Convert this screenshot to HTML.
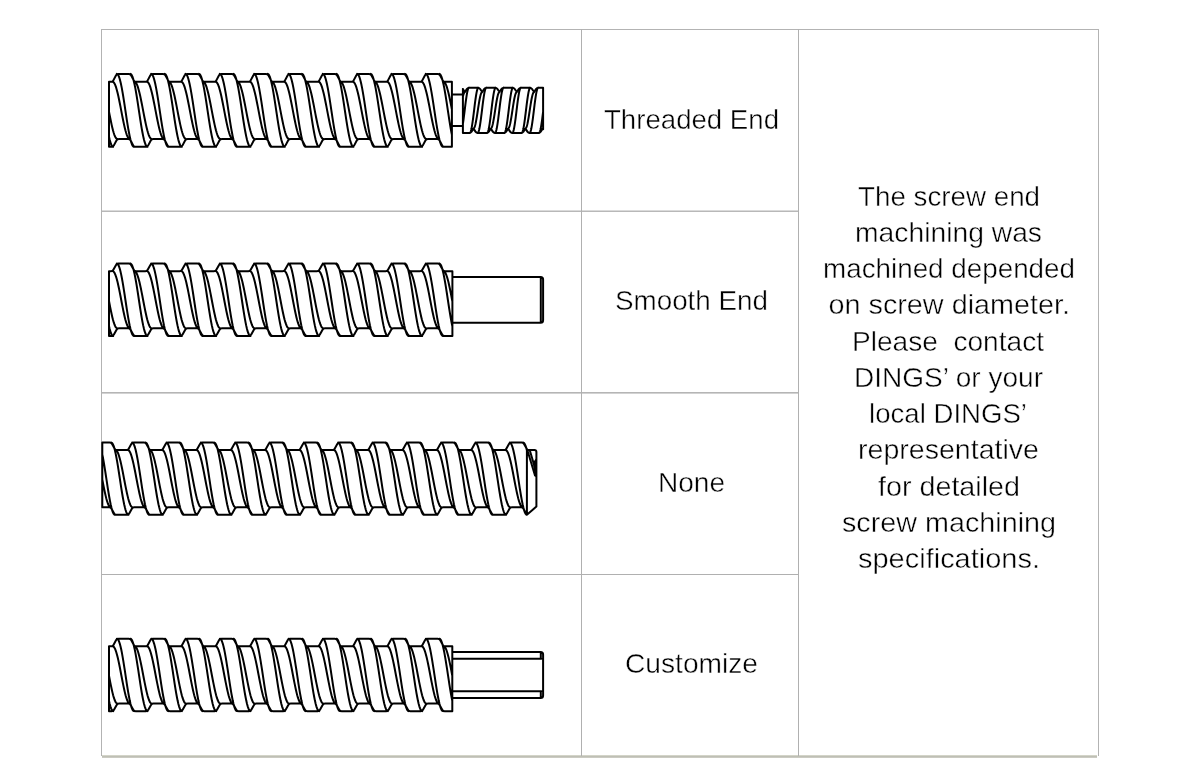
<!DOCTYPE html>
<html><head><meta charset="utf-8"><title>Screw end machining</title>
<style>
html,body{margin:0;padding:0;background:#fff;width:1200px;height:780px;overflow:hidden}
svg{position:absolute;left:0;top:0;display:block}
text{font-family:"Liberation Sans", sans-serif;font-size:28.5px;fill:#000;stroke:#fff;stroke-width:0.45px}
</style></head><body>
<svg width="1200" height="780" viewBox="0 0 1200 780">
<g shape-rendering="crispEdges">
<rect x="101" y="29" width="998" height="1" fill="#b3b3b3"/>
<rect x="101" y="210" width="698" height="1" fill="#dadada"/>
<rect x="101" y="211" width="698" height="1" fill="#b8b8b8"/>
<rect x="101" y="392" width="698" height="1" fill="#b5b5b5"/>
<rect x="101" y="393" width="698" height="1" fill="#d2d2d2"/>
<rect x="101" y="574" width="698" height="1" fill="#b0b0b0"/>
<rect x="102" y="755" width="995" height="1" fill="#d3d4c8"/>
<rect x="102" y="756" width="995" height="1" fill="#bebfb5"/>
<rect x="102" y="757" width="995" height="1" fill="#cbcbc2"/>
<rect x="101" y="29" width="1" height="727" fill="#b3b3b3"/>
<rect x="1098" y="29" width="1" height="727" fill="#b3b3b3"/>
<rect x="581" y="29" width="1" height="727" fill="#b0b0b0"/>
<rect x="798" y="29" width="1" height="727" fill="#b0b0b0"/>
</g>
<path d="M533.2,462 L536.4,458 L536.4,477 L534.6,476 Z" fill="#000"/>
<path d="M109,81.8 L111,81.8 Q112.6,81.8 113.35,80.39 L116.05,75.31 Q116.8,73.9 118.4,73.9 L128.7,73.9 Q130.3,73.9 131.05,75.31 L133.75,80.39 Q134.5,81.8 136.1,81.8 L145.33,81.8 Q146.93,81.8 147.68,80.39 L150.38,75.31 Q151.13,73.9 152.73,73.9 L163.03,73.9 Q164.63,73.9 165.38,75.31 L168.08,80.39 Q168.83,81.8 170.43,81.8 L179.66,81.8 Q181.26,81.8 182.01,80.39 L184.71,75.31 Q185.46,73.9 187.06,73.9 L197.36,73.9 Q198.96,73.9 199.71,75.31 L202.41,80.39 Q203.16,81.8 204.76,81.8 L213.99,81.8 Q215.59,81.8 216.34,80.39 L219.04,75.31 Q219.79,73.9 221.39,73.9 L231.69,73.9 Q233.29,73.9 234.04,75.31 L236.74,80.39 Q237.49,81.8 239.09,81.8 L248.32,81.8 Q249.92,81.8 250.67,80.39 L253.37,75.31 Q254.12,73.9 255.72,73.9 L266.02,73.9 Q267.62,73.9 268.37,75.31 L271.07,80.39 Q271.82,81.8 273.42,81.8 L282.65,81.8 Q284.25,81.8 285,80.39 L287.7,75.31 Q288.45,73.9 290.05,73.9 L300.35,73.9 Q301.95,73.9 302.7,75.31 L305.4,80.39 Q306.15,81.8 307.75,81.8 L316.98,81.8 Q318.58,81.8 319.33,80.39 L322.03,75.31 Q322.78,73.9 324.38,73.9 L334.68,73.9 Q336.28,73.9 337.03,75.31 L339.73,80.39 Q340.48,81.8 342.08,81.8 L351.31,81.8 Q352.91,81.8 353.66,80.39 L356.36,75.31 Q357.11,73.9 358.71,73.9 L369.01,73.9 Q370.61,73.9 371.36,75.31 L374.06,80.39 Q374.81,81.8 376.41,81.8 L385.64,81.8 Q387.24,81.8 387.99,80.39 L390.69,75.31 Q391.44,73.9 393.04,73.9 L403.34,73.9 Q404.94,73.9 405.69,75.31 L408.39,80.39 Q409.14,81.8 410.74,81.8 L419.97,81.8 Q421.57,81.8 422.32,80.39 L425.02,75.31 Q425.77,73.9 427.37,73.9 L437.67,73.9 Q439.27,73.9 440.02,75.31 L442.72,80.39 Q443.47,81.8 445.07,81.8 L451.9,81.8 M109,146.8 L111.54,146.8 Q113.14,146.8 113.89,145.39 L116.58,140.31 Q117.34,138.9 118.94,138.9 L128.17,138.9 Q129.77,138.9 130.52,140.31 L133.21,145.39 Q133.97,146.8 135.56,146.8 L145.87,146.8 Q147.47,146.8 148.22,145.39 L150.91,140.31 Q151.66,138.9 153.26,138.9 L162.5,138.9 Q164.09,138.9 164.85,140.31 L167.54,145.39 Q168.3,146.8 169.9,146.8 L180.2,146.8 Q181.8,146.8 182.55,145.39 L185.24,140.31 Q186,138.9 187.59,138.9 L196.83,138.9 Q198.43,138.9 199.18,140.31 L201.87,145.39 Q202.62,146.8 204.22,146.8 L214.53,146.8 Q216.12,146.8 216.88,145.39 L219.57,140.31 Q220.32,138.9 221.92,138.9 L231.16,138.9 Q232.75,138.9 233.51,140.31 L236.2,145.39 Q236.95,146.8 238.55,146.8 L248.85,146.8 Q250.45,146.8 251.21,145.39 L253.9,140.31 Q254.65,138.9 256.25,138.9 L265.48,138.9 Q267.08,138.9 267.84,140.31 L270.53,145.39 Q271.28,146.8 272.88,146.8 L283.18,146.8 Q284.78,146.8 285.54,145.39 L288.23,140.31 Q288.98,138.9 290.58,138.9 L299.81,138.9 Q301.41,138.9 302.17,140.31 L304.86,145.39 Q305.62,146.8 307.22,146.8 L317.51,146.8 Q319.12,146.8 319.87,145.39 L322.56,140.31 Q323.31,138.9 324.92,138.9 L334.14,138.9 Q335.75,138.9 336.5,140.31 L339.19,145.39 Q339.94,146.8 341.55,146.8 L351.84,146.8 Q353.44,146.8 354.2,145.39 L356.89,140.31 Q357.64,138.9 359.25,138.9 L368.47,138.9 Q370.07,138.9 370.83,140.31 L373.52,145.39 Q374.27,146.8 375.88,146.8 L386.17,146.8 Q387.77,146.8 388.53,145.39 L391.22,140.31 Q391.97,138.9 393.57,138.9 L402.8,138.9 Q404.4,138.9 405.16,140.31 L407.85,145.39 Q408.61,146.8 410.21,146.8 L420.5,146.8 Q422.11,146.8 422.86,145.39 L425.55,140.31 Q426.31,138.9 427.91,138.9 L437.13,138.9 Q438.74,138.9 439.49,140.31 L442.18,145.39 Q442.93,146.8 444.53,146.8 L451.9,146.8 M109,136.81 L109.56,139.27 L110.27,141.92 L110.99,144.03 L111.7,145.56 L112.42,146.49 L113.13,146.8 M109,111.64 L109.47,114.08 L110.18,117.74 L110.9,121.28 L111.61,124.62 L112.33,127.73 L113.04,130.54 L113.76,133 L114.47,135.08 L115.19,136.73 L115.9,137.93 L116.62,138.66 L117.34,138.9 M112.6,81.8 L113.32,82.04 L114.03,82.77 L114.75,83.97 L115.46,85.62 L116.18,87.7 L116.89,90.16 L117.61,92.97 L118.32,96.07 L119.04,99.42 L119.75,102.96 L120.47,106.62 L121.18,110.35 L121.9,114.08 L122.61,117.74 L123.33,121.28 L124.04,124.62 L124.76,127.73 L125.47,130.54 L126.19,133 L126.9,135.08 L127.62,136.73 L128.33,137.93 L129.05,138.66 L129.76,138.9 M116.8,73.9 L117.52,74.21 L118.23,75.14 L118.95,76.67 L119.66,78.78 L120.38,81.43 L121.09,84.58 L121.81,88.16 L122.52,92.12 L123.24,96.4 L123.95,100.92 L124.67,105.59 L125.38,110.35 L126.1,115.11 L126.81,119.78 L127.53,124.3 L128.24,128.57 L128.96,132.54 L129.67,136.12 L130.39,139.27 L131.1,141.92 L131.82,144.03 L132.53,145.56 L133.25,146.49 L133.97,146.8 M130.3,73.9 L131.02,74.21 L131.73,75.14 L132.45,76.67 L133.16,78.78 L133.88,81.43 L134.59,84.58 L135.31,88.16 L136.02,92.12 L136.74,96.4 L137.45,100.92 L138.17,105.59 L138.88,110.35 L139.6,115.11 L140.31,119.78 L141.03,124.3 L141.74,128.57 L142.46,132.54 L143.17,136.12 L143.89,139.27 L144.6,141.92 L145.32,144.03 L146.03,145.56 L146.75,146.49 L147.47,146.8 M134.5,81.8 L135.22,82.04 L135.93,82.77 L136.65,83.97 L137.36,85.62 L138.08,87.7 L138.79,90.16 L139.51,92.97 L140.22,96.07 L140.94,99.42 L141.65,102.96 L142.37,106.62 L143.08,110.35 L143.8,114.08 L144.51,117.74 L145.23,121.28 L145.94,124.62 L146.66,127.73 L147.37,130.54 L148.09,133 L148.8,135.08 L149.52,136.73 L150.23,137.93 L150.95,138.66 L151.66,138.9 M146.93,81.8 L147.65,82.04 L148.36,82.77 L149.08,83.97 L149.79,85.62 L150.51,87.7 L151.22,90.16 L151.94,92.97 L152.65,96.07 L153.37,99.42 L154.08,102.96 L154.8,106.62 L155.51,110.35 L156.23,114.08 L156.94,117.74 L157.66,121.28 L158.37,124.62 L159.09,127.73 L159.8,130.54 L160.52,133 L161.23,135.08 L161.95,136.73 L162.66,137.93 L163.38,138.66 L164.09,138.9 M151.13,73.9 L151.85,74.21 L152.56,75.14 L153.28,76.67 L153.99,78.78 L154.71,81.43 L155.42,84.58 L156.14,88.16 L156.85,92.12 L157.57,96.4 L158.28,100.92 L159,105.59 L159.71,110.35 L160.43,115.11 L161.14,119.78 L161.86,124.3 L162.57,128.57 L163.29,132.54 L164,136.12 L164.72,139.27 L165.43,141.92 L166.15,144.03 L166.86,145.56 L167.58,146.49 L168.29,146.8 M164.63,73.9 L165.35,74.21 L166.06,75.14 L166.78,76.67 L167.49,78.78 L168.21,81.43 L168.92,84.58 L169.64,88.16 L170.35,92.12 L171.07,96.4 L171.78,100.92 L172.5,105.59 L173.21,110.35 L173.93,115.11 L174.64,119.78 L175.36,124.3 L176.07,128.57 L176.79,132.54 L177.5,136.12 L178.22,139.27 L178.93,141.92 L179.65,144.03 L180.36,145.56 L181.08,146.49 L181.79,146.8 M168.83,81.8 L169.55,82.04 L170.26,82.77 L170.98,83.97 L171.69,85.62 L172.41,87.7 L173.12,90.16 L173.84,92.97 L174.55,96.07 L175.27,99.42 L175.98,102.96 L176.7,106.62 L177.41,110.35 L178.13,114.08 L178.84,117.74 L179.56,121.28 L180.27,124.62 L180.99,127.73 L181.7,130.54 L182.42,133 L183.13,135.08 L183.85,136.73 L184.56,137.93 L185.28,138.66 L185.99,138.9 M181.26,81.8 L181.98,82.04 L182.69,82.77 L183.41,83.97 L184.12,85.62 L184.84,87.7 L185.55,90.16 L186.27,92.97 L186.98,96.07 L187.7,99.42 L188.41,102.96 L189.13,106.62 L189.84,110.35 L190.56,114.08 L191.27,117.74 L191.99,121.28 L192.7,124.62 L193.42,127.73 L194.13,130.54 L194.85,133 L195.56,135.08 L196.28,136.73 L196.99,137.93 L197.71,138.66 L198.42,138.9 M185.46,73.9 L186.18,74.21 L186.89,75.14 L187.61,76.67 L188.32,78.78 L189.04,81.43 L189.75,84.58 L190.47,88.16 L191.18,92.12 L191.9,96.4 L192.61,100.92 L193.33,105.59 L194.04,110.35 L194.76,115.11 L195.47,119.78 L196.19,124.3 L196.9,128.57 L197.62,132.54 L198.33,136.12 L199.05,139.27 L199.76,141.92 L200.48,144.03 L201.19,145.56 L201.91,146.49 L202.62,146.8 M198.96,73.9 L199.68,74.21 L200.39,75.14 L201.11,76.67 L201.82,78.78 L202.54,81.43 L203.25,84.58 L203.97,88.16 L204.68,92.12 L205.4,96.4 L206.11,100.92 L206.83,105.59 L207.54,110.35 L208.26,115.11 L208.97,119.78 L209.69,124.3 L210.4,128.57 L211.12,132.54 L211.83,136.12 L212.55,139.27 L213.26,141.92 L213.98,144.03 L214.69,145.56 L215.41,146.49 L216.12,146.8 M203.16,81.8 L203.88,82.04 L204.59,82.77 L205.31,83.97 L206.02,85.62 L206.74,87.7 L207.45,90.16 L208.17,92.97 L208.88,96.07 L209.6,99.42 L210.31,102.96 L211.03,106.62 L211.74,110.35 L212.46,114.08 L213.17,117.74 L213.89,121.28 L214.6,124.62 L215.32,127.73 L216.03,130.54 L216.75,133 L217.46,135.08 L218.18,136.73 L218.89,137.93 L219.61,138.66 L220.32,138.9 M215.59,81.8 L216.31,82.04 L217.02,82.77 L217.74,83.97 L218.45,85.62 L219.17,87.7 L219.88,90.16 L220.6,92.97 L221.31,96.07 L222.03,99.42 L222.74,102.96 L223.46,106.62 L224.17,110.35 L224.89,114.08 L225.6,117.74 L226.32,121.28 L227.03,124.62 L227.75,127.73 L228.46,130.54 L229.18,133 L229.89,135.08 L230.61,136.73 L231.32,137.93 L232.04,138.66 L232.75,138.9 M219.79,73.9 L220.51,74.21 L221.22,75.14 L221.94,76.67 L222.65,78.78 L223.37,81.43 L224.08,84.58 L224.8,88.16 L225.51,92.12 L226.23,96.4 L226.94,100.92 L227.66,105.59 L228.37,110.35 L229.09,115.11 L229.8,119.78 L230.52,124.3 L231.23,128.57 L231.95,132.54 L232.66,136.12 L233.38,139.27 L234.09,141.92 L234.81,144.03 L235.52,145.56 L236.24,146.49 L236.95,146.8 M233.29,73.9 L234.01,74.21 L234.72,75.14 L235.44,76.67 L236.15,78.78 L236.87,81.43 L237.58,84.58 L238.3,88.16 L239.01,92.12 L239.73,96.4 L240.44,100.92 L241.16,105.59 L241.87,110.35 L242.59,115.11 L243.3,119.78 L244.02,124.3 L244.73,128.57 L245.45,132.54 L246.16,136.12 L246.88,139.27 L247.59,141.92 L248.31,144.03 L249.02,145.56 L249.74,146.49 L250.45,146.8 M237.49,81.8 L238.21,82.04 L238.92,82.77 L239.64,83.97 L240.35,85.62 L241.07,87.7 L241.78,90.16 L242.5,92.97 L243.21,96.07 L243.93,99.42 L244.64,102.96 L245.36,106.62 L246.07,110.35 L246.79,114.08 L247.5,117.74 L248.22,121.28 L248.93,124.62 L249.65,127.73 L250.36,130.54 L251.08,133 L251.79,135.08 L252.51,136.73 L253.22,137.93 L253.94,138.66 L254.65,138.9 M249.92,81.8 L250.64,82.04 L251.35,82.77 L252.07,83.97 L252.78,85.62 L253.5,87.7 L254.21,90.16 L254.93,92.97 L255.64,96.07 L256.36,99.42 L257.07,102.96 L257.79,106.62 L258.5,110.35 L259.22,114.08 L259.93,117.74 L260.65,121.28 L261.36,124.62 L262.08,127.73 L262.79,130.54 L263.51,133 L264.22,135.08 L264.94,136.73 L265.65,137.93 L266.37,138.66 L267.09,138.9 M254.12,73.9 L254.84,74.21 L255.55,75.14 L256.27,76.67 L256.98,78.78 L257.7,81.43 L258.41,84.58 L259.13,88.16 L259.84,92.12 L260.56,96.4 L261.27,100.92 L261.99,105.59 L262.7,110.35 L263.42,115.11 L264.13,119.78 L264.85,124.3 L265.56,128.57 L266.28,132.54 L266.99,136.12 L267.71,139.27 L268.42,141.92 L269.14,144.03 L269.85,145.56 L270.57,146.49 L271.29,146.8 M267.62,73.9 L268.34,74.21 L269.05,75.14 L269.77,76.67 L270.48,78.78 L271.2,81.43 L271.91,84.58 L272.63,88.16 L273.34,92.12 L274.06,96.4 L274.77,100.92 L275.49,105.59 L276.2,110.35 L276.92,115.11 L277.63,119.78 L278.35,124.3 L279.06,128.57 L279.78,132.54 L280.49,136.12 L281.21,139.27 L281.92,141.92 L282.64,144.03 L283.35,145.56 L284.07,146.49 L284.79,146.8 M271.82,81.8 L272.54,82.04 L273.25,82.77 L273.97,83.97 L274.68,85.62 L275.4,87.7 L276.11,90.16 L276.83,92.97 L277.54,96.07 L278.26,99.42 L278.97,102.96 L279.69,106.62 L280.4,110.35 L281.12,114.08 L281.83,117.74 L282.55,121.28 L283.26,124.62 L283.98,127.73 L284.69,130.54 L285.41,133 L286.12,135.08 L286.84,136.73 L287.55,137.93 L288.27,138.66 L288.99,138.9 M284.25,81.8 L284.97,82.04 L285.68,82.77 L286.4,83.97 L287.11,85.62 L287.83,87.7 L288.54,90.16 L289.26,92.97 L289.97,96.07 L290.69,99.42 L291.4,102.96 L292.12,106.62 L292.83,110.35 L293.55,114.08 L294.26,117.74 L294.98,121.28 L295.69,124.62 L296.41,127.73 L297.12,130.54 L297.84,133 L298.55,135.08 L299.27,136.73 L299.98,137.93 L300.7,138.66 L301.42,138.9 M288.45,73.9 L289.17,74.21 L289.88,75.14 L290.6,76.67 L291.31,78.78 L292.03,81.43 L292.74,84.58 L293.46,88.16 L294.17,92.12 L294.89,96.4 L295.6,100.92 L296.32,105.59 L297.03,110.35 L297.75,115.11 L298.46,119.78 L299.18,124.3 L299.89,128.57 L300.61,132.54 L301.32,136.12 L302.04,139.27 L302.75,141.92 L303.47,144.03 L304.18,145.56 L304.9,146.49 L305.62,146.8 M301.95,73.9 L302.67,74.21 L303.38,75.14 L304.1,76.67 L304.81,78.78 L305.53,81.43 L306.24,84.58 L306.96,88.16 L307.67,92.12 L308.39,96.4 L309.1,100.92 L309.82,105.59 L310.53,110.35 L311.25,115.11 L311.96,119.78 L312.68,124.3 L313.39,128.57 L314.11,132.54 L314.82,136.12 L315.54,139.27 L316.25,141.92 L316.97,144.03 L317.68,145.56 L318.4,146.49 L319.12,146.8 M306.15,81.8 L306.87,82.04 L307.58,82.77 L308.3,83.97 L309.01,85.62 L309.73,87.7 L310.44,90.16 L311.16,92.97 L311.87,96.07 L312.59,99.42 L313.3,102.96 L314.02,106.62 L314.73,110.35 L315.45,114.08 L316.16,117.74 L316.88,121.28 L317.59,124.62 L318.31,127.73 L319.02,130.54 L319.74,133 L320.45,135.08 L321.17,136.73 L321.88,137.93 L322.6,138.66 L323.31,138.9 M318.58,81.8 L319.3,82.04 L320.01,82.77 L320.73,83.97 L321.44,85.62 L322.16,87.7 L322.87,90.16 L323.59,92.97 L324.3,96.07 L325.02,99.42 L325.73,102.96 L326.45,106.62 L327.16,110.35 L327.88,114.08 L328.59,117.74 L329.31,121.28 L330.02,124.62 L330.74,127.73 L331.45,130.54 L332.17,133 L332.88,135.08 L333.6,136.73 L334.31,137.93 L335.03,138.66 L335.75,138.9 M322.78,73.9 L323.5,74.21 L324.21,75.14 L324.93,76.67 L325.64,78.78 L326.36,81.43 L327.07,84.58 L327.79,88.16 L328.5,92.12 L329.22,96.4 L329.93,100.92 L330.65,105.59 L331.36,110.35 L332.08,115.11 L332.79,119.78 L333.51,124.3 L334.22,128.57 L334.94,132.54 L335.65,136.12 L336.37,139.27 L337.08,141.92 L337.8,144.03 L338.51,145.56 L339.23,146.49 L339.94,146.8 M336.28,73.9 L337,74.21 L337.71,75.14 L338.43,76.67 L339.14,78.78 L339.86,81.43 L340.57,84.58 L341.29,88.16 L342,92.12 L342.72,96.4 L343.43,100.92 L344.15,105.59 L344.86,110.35 L345.58,115.11 L346.29,119.78 L347.01,124.3 L347.72,128.57 L348.44,132.54 L349.15,136.12 L349.87,139.27 L350.58,141.92 L351.3,144.03 L352.01,145.56 L352.73,146.49 L353.44,146.8 M340.48,81.8 L341.2,82.04 L341.91,82.77 L342.63,83.97 L343.34,85.62 L344.06,87.7 L344.77,90.16 L345.49,92.97 L346.2,96.07 L346.92,99.42 L347.63,102.96 L348.35,106.62 L349.06,110.35 L349.78,114.08 L350.49,117.74 L351.21,121.28 L351.92,124.62 L352.64,127.73 L353.35,130.54 L354.07,133 L354.78,135.08 L355.5,136.73 L356.21,137.93 L356.93,138.66 L357.64,138.9 M352.91,81.8 L353.63,82.04 L354.34,82.77 L355.06,83.97 L355.77,85.62 L356.49,87.7 L357.2,90.16 L357.92,92.97 L358.63,96.07 L359.35,99.42 L360.06,102.96 L360.78,106.62 L361.49,110.35 L362.21,114.08 L362.92,117.74 L363.64,121.28 L364.35,124.62 L365.07,127.73 L365.78,130.54 L366.5,133 L367.21,135.08 L367.93,136.73 L368.64,137.93 L369.36,138.66 L370.08,138.9 M357.11,73.9 L357.83,74.21 L358.54,75.14 L359.26,76.67 L359.97,78.78 L360.69,81.43 L361.4,84.58 L362.12,88.16 L362.83,92.12 L363.55,96.4 L364.26,100.92 L364.98,105.59 L365.69,110.35 L366.41,115.11 L367.12,119.78 L367.84,124.3 L368.55,128.57 L369.27,132.54 L369.98,136.12 L370.7,139.27 L371.41,141.92 L372.13,144.03 L372.84,145.56 L373.56,146.49 L374.28,146.8 M370.61,73.9 L371.33,74.21 L372.04,75.14 L372.76,76.67 L373.47,78.78 L374.19,81.43 L374.9,84.58 L375.62,88.16 L376.33,92.12 L377.05,96.4 L377.76,100.92 L378.48,105.59 L379.19,110.35 L379.91,115.11 L380.62,119.78 L381.34,124.3 L382.05,128.57 L382.77,132.54 L383.48,136.12 L384.2,139.27 L384.91,141.92 L385.63,144.03 L386.34,145.56 L387.06,146.49 L387.78,146.8 M374.81,81.8 L375.53,82.04 L376.24,82.77 L376.96,83.97 L377.67,85.62 L378.39,87.7 L379.1,90.16 L379.82,92.97 L380.53,96.07 L381.25,99.42 L381.96,102.96 L382.68,106.62 L383.39,110.35 L384.11,114.08 L384.82,117.74 L385.54,121.28 L386.25,124.62 L386.97,127.73 L387.68,130.54 L388.4,133 L389.11,135.08 L389.83,136.73 L390.54,137.93 L391.26,138.66 L391.98,138.9 M387.24,81.8 L387.96,82.04 L388.67,82.77 L389.39,83.97 L390.1,85.62 L390.82,87.7 L391.53,90.16 L392.25,92.97 L392.96,96.07 L393.68,99.42 L394.39,102.96 L395.11,106.62 L395.82,110.35 L396.54,114.08 L397.25,117.74 L397.97,121.28 L398.68,124.62 L399.4,127.73 L400.11,130.54 L400.83,133 L401.54,135.08 L402.26,136.73 L402.97,137.93 L403.69,138.66 L404.41,138.9 M391.44,73.9 L392.16,74.21 L392.87,75.14 L393.59,76.67 L394.3,78.78 L395.02,81.43 L395.73,84.58 L396.45,88.16 L397.16,92.12 L397.88,96.4 L398.59,100.92 L399.31,105.59 L400.02,110.35 L400.74,115.11 L401.45,119.78 L402.17,124.3 L402.88,128.57 L403.6,132.54 L404.31,136.12 L405.03,139.27 L405.74,141.92 L406.46,144.03 L407.17,145.56 L407.89,146.49 L408.61,146.8 M404.94,73.9 L405.66,74.21 L406.37,75.14 L407.09,76.67 L407.8,78.78 L408.52,81.43 L409.23,84.58 L409.95,88.16 L410.66,92.12 L411.38,96.4 L412.09,100.92 L412.81,105.59 L413.52,110.35 L414.24,115.11 L414.95,119.78 L415.67,124.3 L416.38,128.57 L417.1,132.54 L417.81,136.12 L418.53,139.27 L419.24,141.92 L419.96,144.03 L420.67,145.56 L421.39,146.49 L422.11,146.8 M409.14,81.8 L409.86,82.04 L410.57,82.77 L411.29,83.97 L412,85.62 L412.72,87.7 L413.43,90.16 L414.15,92.97 L414.86,96.07 L415.58,99.42 L416.29,102.96 L417.01,106.62 L417.72,110.35 L418.44,114.08 L419.15,117.74 L419.87,121.28 L420.58,124.62 L421.3,127.73 L422.01,130.54 L422.73,133 L423.44,135.08 L424.16,136.73 L424.87,137.93 L425.59,138.66 L426.31,138.9 M421.57,81.8 L422.29,82.04 L423,82.77 L423.72,83.97 L424.43,85.62 L425.15,87.7 L425.86,90.16 L426.58,92.97 L427.29,96.07 L428.01,99.42 L428.72,102.96 L429.44,106.62 L430.15,110.35 L430.87,114.08 L431.58,117.74 L432.3,121.28 L433.01,124.62 L433.73,127.73 L434.44,130.54 L435.16,133 L435.87,135.08 L436.59,136.73 L437.3,137.93 L438.02,138.66 L438.74,138.9 M425.77,73.9 L426.49,74.21 L427.2,75.14 L427.92,76.67 L428.63,78.78 L429.35,81.43 L430.06,84.58 L430.78,88.16 L431.49,92.12 L432.21,96.4 L432.92,100.92 L433.64,105.59 L434.35,110.35 L435.07,115.11 L435.78,119.78 L436.5,124.3 L437.21,128.57 L437.93,132.54 L438.64,136.12 L439.36,139.27 L440.07,141.92 L440.79,144.03 L441.5,145.56 L442.22,146.49 L442.94,146.8 M439.27,73.9 L439.99,74.21 L440.7,75.14 L441.42,76.67 L442.13,78.78 L442.85,81.43 L443.56,84.58 L444.28,88.16 L444.99,92.12 L445.71,96.4 L446.42,100.92 L447.14,105.59 L447.85,110.35 L448.57,115.11 L449.28,119.78 L450,124.3 L450.71,128.57 L451.43,132.54 L451.9,134.9 M443.47,81.8 L444.19,82.04 L444.9,82.77 L445.62,83.97 L446.33,85.62 L447.05,87.7 L447.76,90.16 L448.48,92.97 L449.19,96.07 L449.91,99.42 L450.62,102.96 L451.34,106.62 L451.9,109.56 M109,81.8 L109,146.8 M451.9,81.8 L451.9,146.8 M451.9,94.4 L462.9,94.4 M451.9,126.1 L462.9,126.1 M462.9,89.11 L463.99,90.8 Q464.85,92.15 465.71,90.8 L466.84,89.05 Q467.7,87.7 469.3,87.7 L477.7,87.7 Q479.3,87.7 480.16,89.05 L481.29,90.8 Q482.15,92.15 483.01,90.8 L484.14,89.05 Q485,87.7 486.6,87.7 L495,87.7 Q496.6,87.7 497.46,89.05 L498.59,90.8 Q499.45,92.15 500.31,90.8 L501.44,89.05 Q502.3,87.7 503.9,87.7 L512.3,87.7 Q513.9,87.7 514.76,89.05 L515.89,90.8 Q516.75,92.15 517.61,90.8 L518.74,89.05 Q519.6,87.7 521.2,87.7 L529.6,87.7 Q531.2,87.7 532.06,89.05 L533.19,90.8 Q534.05,92.15 534.91,90.8 L536.04,89.05 Q536.9,87.7 538.5,87.7 L543.1,87.7 M462.9,133 L469.05,133 Q470.65,133 471.51,131.65 L472.64,129.9 Q473.5,128.55 474.36,129.9 L475.49,131.65 Q476.35,133 477.95,133 L486.35,133 Q487.95,133 488.81,131.65 L489.94,129.9 Q490.8,128.55 491.66,129.9 L492.79,131.65 Q493.65,133 495.25,133 L503.65,133 Q505.25,133 506.11,131.65 L507.24,129.9 Q508.1,128.55 508.96,129.9 L510.09,131.65 Q510.95,133 512.55,133 L520.95,133 Q522.55,133 523.41,131.65 L524.54,129.9 Q525.4,128.55 526.26,129.9 L527.39,131.65 Q528.25,133 529.85,133 L538.25,133 Q539.85,133 540.71,131.65 L541.84,129.9 Q542.7,128.55 542.9,128.86 L543.1,129.17 M464.85,92.15 L464.49,92.31 L464.13,92.77 L463.77,93.54 L463.41,94.59 L463.05,95.91 L462.9,96.56 M469,87.7 L468.64,87.89 L468.28,88.47 L467.92,89.42 L467.56,90.73 L467.2,92.38 L466.84,94.33 L466.48,96.56 L466.12,99.02 L465.76,101.68 L465.4,104.49 L465.04,107.39 L464.68,110.35 L464.31,113.31 L463.95,116.21 L463.59,119.02 L463.23,121.67 L462.9,123.95 M478.4,87.7 L478.04,87.89 L477.68,88.47 L477.32,89.42 L476.96,90.73 L476.6,92.38 L476.24,94.33 L475.88,96.56 L475.52,99.02 L475.16,101.68 L474.8,104.49 L474.44,107.39 L474.08,110.35 L473.71,113.31 L473.35,116.21 L472.99,119.02 L472.63,121.67 L472.27,124.14 L471.91,126.37 L471.55,128.32 L471.19,129.97 L470.83,131.28 L470.47,132.23 L470.11,132.81 L469.75,133 M482.15,92.15 L481.79,92.31 L481.43,92.77 L481.07,93.54 L480.71,94.59 L480.35,95.91 L479.99,97.48 L479.63,99.27 L479.27,101.25 L478.91,103.39 L478.55,105.64 L478.19,107.97 L477.83,110.35 L477.46,112.73 L477.1,115.06 L476.74,117.31 L476.38,119.45 L476.02,121.43 L475.66,123.22 L475.3,124.79 L474.94,126.11 L474.58,127.16 L474.22,127.93 L473.86,128.39 L473.5,128.55 M486.3,87.7 L485.94,87.89 L485.58,88.47 L485.22,89.42 L484.86,90.73 L484.5,92.38 L484.14,94.33 L483.78,96.56 L483.42,99.02 L483.06,101.68 L482.7,104.49 L482.34,107.39 L481.98,110.35 L481.61,113.31 L481.25,116.21 L480.89,119.02 L480.53,121.67 L480.17,124.14 L479.81,126.37 L479.45,128.32 L479.09,129.97 L478.73,131.28 L478.37,132.23 L478.01,132.81 L477.65,133 M495.7,87.7 L495.34,87.89 L494.98,88.47 L494.62,89.42 L494.26,90.73 L493.9,92.38 L493.54,94.33 L493.18,96.56 L492.82,99.02 L492.46,101.68 L492.1,104.49 L491.74,107.39 L491.38,110.35 L491.01,113.31 L490.65,116.21 L490.29,119.02 L489.93,121.67 L489.57,124.14 L489.21,126.37 L488.85,128.32 L488.49,129.97 L488.13,131.28 L487.77,132.23 L487.41,132.81 L487.05,133 M499.45,92.15 L499.09,92.31 L498.73,92.77 L498.37,93.54 L498.01,94.59 L497.65,95.91 L497.29,97.48 L496.93,99.27 L496.57,101.25 L496.21,103.39 L495.85,105.64 L495.49,107.97 L495.13,110.35 L494.76,112.73 L494.4,115.06 L494.04,117.31 L493.68,119.45 L493.32,121.43 L492.96,123.22 L492.6,124.79 L492.24,126.11 L491.88,127.16 L491.52,127.93 L491.16,128.39 L490.8,128.55 M503.6,87.7 L503.24,87.89 L502.88,88.47 L502.52,89.42 L502.16,90.73 L501.8,92.38 L501.44,94.33 L501.08,96.56 L500.72,99.02 L500.36,101.68 L500,104.49 L499.64,107.39 L499.28,110.35 L498.91,113.31 L498.55,116.21 L498.19,119.02 L497.83,121.67 L497.47,124.14 L497.11,126.37 L496.75,128.32 L496.39,129.97 L496.03,131.28 L495.67,132.23 L495.31,132.81 L494.95,133 M513,87.7 L512.64,87.89 L512.28,88.47 L511.92,89.42 L511.56,90.73 L511.2,92.38 L510.84,94.33 L510.48,96.56 L510.12,99.02 L509.76,101.68 L509.4,104.49 L509.04,107.39 L508.68,110.35 L508.31,113.31 L507.95,116.21 L507.59,119.02 L507.23,121.67 L506.87,124.14 L506.51,126.37 L506.15,128.32 L505.79,129.97 L505.43,131.28 L505.07,132.23 L504.71,132.81 L504.35,133 M516.75,92.15 L516.39,92.31 L516.03,92.77 L515.67,93.54 L515.31,94.59 L514.95,95.91 L514.59,97.48 L514.23,99.27 L513.87,101.25 L513.51,103.39 L513.15,105.64 L512.79,107.97 L512.42,110.35 L512.06,112.73 L511.7,115.06 L511.34,117.31 L510.98,119.45 L510.62,121.43 L510.26,123.22 L509.9,124.79 L509.54,126.11 L509.18,127.16 L508.82,127.93 L508.46,128.39 L508.1,128.55 M520.9,87.7 L520.54,87.89 L520.18,88.47 L519.82,89.42 L519.46,90.73 L519.1,92.38 L518.74,94.33 L518.38,96.56 L518.02,99.02 L517.66,101.68 L517.3,104.49 L516.94,107.39 L516.57,110.35 L516.21,113.31 L515.85,116.21 L515.49,119.02 L515.13,121.67 L514.77,124.14 L514.41,126.37 L514.05,128.32 L513.69,129.97 L513.33,131.28 L512.97,132.23 L512.61,132.81 L512.25,133 M530.3,87.7 L529.94,87.89 L529.58,88.47 L529.22,89.42 L528.86,90.73 L528.5,92.38 L528.14,94.33 L527.78,96.56 L527.42,99.02 L527.06,101.68 L526.7,104.49 L526.34,107.39 L525.98,110.35 L525.61,113.31 L525.25,116.21 L524.89,119.02 L524.53,121.67 L524.17,124.14 L523.81,126.37 L523.45,128.32 L523.09,129.97 L522.73,131.28 L522.37,132.23 L522.01,132.81 L521.65,133 M534.05,92.15 L533.69,92.31 L533.33,92.77 L532.97,93.54 L532.61,94.59 L532.25,95.91 L531.89,97.48 L531.53,99.27 L531.17,101.25 L530.81,103.39 L530.45,105.64 L530.09,107.97 L529.73,110.35 L529.36,112.73 L529,115.06 L528.64,117.31 L528.28,119.45 L527.92,121.43 L527.56,123.22 L527.2,124.79 L526.84,126.11 L526.48,127.16 L526.12,127.93 L525.76,128.39 L525.4,128.55 M538.2,87.7 L537.84,87.89 L537.48,88.47 L537.12,89.42 L536.76,90.73 L536.4,92.38 L536.04,94.33 L535.68,96.56 L535.32,99.02 L534.96,101.68 L534.6,104.49 L534.24,107.39 L533.87,110.35 L533.51,113.31 L533.15,116.21 L532.79,119.02 L532.43,121.67 L532.07,124.14 L531.71,126.37 L531.35,128.32 L530.99,129.97 L530.63,131.28 L530.27,132.23 L529.91,132.81 L529.55,133 M543.1,111.79 L542.91,113.31 L542.55,116.21 L542.19,119.02 L541.83,121.67 L541.47,124.14 L541.11,126.37 L540.75,128.32 L540.39,129.97 L540.03,131.28 L539.67,132.23 L539.31,132.81 L538.95,133 M543.1,128.34 L543.06,128.39 L542.7,128.55 M462.9,89.11 L462.9,133 M543.1,87.7 L543.1,129.17 M109,271.15 L111,271.15 Q112.6,271.15 113.37,269.75 L116.03,264.9 Q116.8,263.5 118.4,263.5 L128.7,263.5 Q130.3,263.5 131.07,264.9 L133.73,269.75 Q134.5,271.15 136.1,271.15 L145.33,271.15 Q146.93,271.15 147.7,269.75 L150.36,264.9 Q151.13,263.5 152.73,263.5 L163.03,263.5 Q164.63,263.5 165.4,264.9 L168.06,269.75 Q168.83,271.15 170.43,271.15 L179.66,271.15 Q181.26,271.15 182.03,269.75 L184.69,264.9 Q185.46,263.5 187.06,263.5 L197.36,263.5 Q198.96,263.5 199.73,264.9 L202.39,269.75 Q203.16,271.15 204.76,271.15 L213.99,271.15 Q215.59,271.15 216.36,269.75 L219.02,264.9 Q219.79,263.5 221.39,263.5 L231.69,263.5 Q233.29,263.5 234.06,264.9 L236.72,269.75 Q237.49,271.15 239.09,271.15 L248.32,271.15 Q249.92,271.15 250.69,269.75 L253.35,264.9 Q254.12,263.5 255.72,263.5 L266.02,263.5 Q267.62,263.5 268.39,264.9 L271.05,269.75 Q271.82,271.15 273.42,271.15 L282.65,271.15 Q284.25,271.15 285.02,269.75 L287.68,264.9 Q288.45,263.5 290.05,263.5 L300.35,263.5 Q301.95,263.5 302.72,264.9 L305.38,269.75 Q306.15,271.15 307.75,271.15 L316.98,271.15 Q318.58,271.15 319.35,269.75 L322.01,264.9 Q322.78,263.5 324.38,263.5 L334.68,263.5 Q336.28,263.5 337.05,264.9 L339.71,269.75 Q340.48,271.15 342.08,271.15 L351.31,271.15 Q352.91,271.15 353.68,269.75 L356.34,264.9 Q357.11,263.5 358.71,263.5 L369.01,263.5 Q370.61,263.5 371.38,264.9 L374.04,269.75 Q374.81,271.15 376.41,271.15 L385.64,271.15 Q387.24,271.15 388.01,269.75 L390.67,264.9 Q391.44,263.5 393.04,263.5 L403.34,263.5 Q404.94,263.5 405.71,264.9 L408.37,269.75 Q409.14,271.15 410.74,271.15 L419.97,271.15 Q421.57,271.15 422.34,269.75 L425,264.9 Q425.77,263.5 427.37,263.5 L437.67,263.5 Q439.27,263.5 440.04,264.9 L442.7,269.75 Q443.47,271.15 445.07,271.15 L452.4,271.15 M109,336 L111.54,336 Q113.14,336 113.91,334.6 L116.56,329.75 Q117.34,328.35 118.94,328.35 L128.17,328.35 Q129.77,328.35 130.54,329.75 L133.19,334.6 Q133.97,336 135.56,336 L145.87,336 Q147.47,336 148.24,334.6 L150.89,329.75 Q151.66,328.35 153.26,328.35 L162.5,328.35 Q164.09,328.35 164.87,329.75 L167.52,334.6 Q168.3,336 169.9,336 L180.2,336 Q181.8,336 182.57,334.6 L185.22,329.75 Q186,328.35 187.59,328.35 L196.83,328.35 Q198.43,328.35 199.2,329.75 L201.85,334.6 Q202.62,336 204.22,336 L214.53,336 Q216.12,336 216.9,334.6 L219.55,329.75 Q220.32,328.35 221.92,328.35 L231.16,328.35 Q232.75,328.35 233.53,329.75 L236.18,334.6 Q236.95,336 238.55,336 L248.85,336 Q250.45,336 251.23,334.6 L253.88,329.75 Q254.65,328.35 256.25,328.35 L265.48,328.35 Q267.08,328.35 267.86,329.75 L270.51,334.6 Q271.28,336 272.88,336 L283.18,336 Q284.78,336 285.56,334.6 L288.21,329.75 Q288.98,328.35 290.58,328.35 L299.81,328.35 Q301.41,328.35 302.19,329.75 L304.84,334.6 Q305.62,336 307.22,336 L317.51,336 Q319.12,336 319.89,334.6 L322.54,329.75 Q323.31,328.35 324.92,328.35 L334.14,328.35 Q335.75,328.35 336.52,329.75 L339.17,334.6 Q339.94,336 341.55,336 L351.84,336 Q353.44,336 354.22,334.6 L356.87,329.75 Q357.64,328.35 359.25,328.35 L368.47,328.35 Q370.07,328.35 370.85,329.75 L373.5,334.6 Q374.27,336 375.88,336 L386.17,336 Q387.77,336 388.55,334.6 L391.2,329.75 Q391.97,328.35 393.57,328.35 L402.8,328.35 Q404.4,328.35 405.18,329.75 L407.83,334.6 Q408.61,336 410.21,336 L420.5,336 Q422.11,336 422.88,334.6 L425.53,329.75 Q426.31,328.35 427.91,328.35 L437.13,328.35 Q438.74,328.35 439.51,329.75 L442.16,334.6 Q442.93,336 444.53,336 L452.4,336 M109,326.07 L109.56,328.51 L110.27,331.14 L110.99,333.24 L111.7,334.76 L112.42,335.69 L113.13,336 M109,301.04 L109.47,303.48 L110.18,307.15 L110.9,310.69 L111.61,314.05 L112.33,317.16 L113.04,319.97 L113.76,322.44 L114.47,324.52 L115.19,326.17 L115.9,327.38 L116.62,328.11 L117.34,328.35 M112.6,271.15 L113.32,271.39 L114.03,272.12 L114.75,273.33 L115.46,274.98 L116.18,277.06 L116.89,279.53 L117.61,282.34 L118.32,285.45 L119.04,288.81 L119.75,292.35 L120.47,296.02 L121.18,299.75 L121.9,303.48 L122.61,307.15 L123.33,310.69 L124.04,314.05 L124.76,317.16 L125.47,319.97 L126.19,322.44 L126.9,324.52 L127.62,326.17 L128.33,327.38 L129.05,328.11 L129.76,328.35 M116.8,263.5 L117.52,263.81 L118.23,264.74 L118.95,266.26 L119.66,268.36 L120.38,270.99 L121.09,274.12 L121.81,277.68 L122.52,281.62 L123.24,285.88 L123.95,290.37 L124.67,295.02 L125.38,299.75 L126.1,304.48 L126.81,309.13 L127.53,313.62 L128.24,317.88 L128.96,321.82 L129.67,325.38 L130.39,328.51 L131.1,331.14 L131.82,333.24 L132.53,334.76 L133.25,335.69 L133.97,336 M130.3,263.5 L131.02,263.81 L131.73,264.74 L132.45,266.26 L133.16,268.36 L133.88,270.99 L134.59,274.12 L135.31,277.68 L136.02,281.62 L136.74,285.88 L137.45,290.37 L138.17,295.02 L138.88,299.75 L139.6,304.48 L140.31,309.13 L141.03,313.62 L141.74,317.88 L142.46,321.82 L143.17,325.38 L143.89,328.51 L144.6,331.14 L145.32,333.24 L146.03,334.76 L146.75,335.69 L147.47,336 M134.5,271.15 L135.22,271.39 L135.93,272.12 L136.65,273.33 L137.36,274.98 L138.08,277.06 L138.79,279.53 L139.51,282.34 L140.22,285.45 L140.94,288.81 L141.65,292.35 L142.37,296.02 L143.08,299.75 L143.8,303.48 L144.51,307.15 L145.23,310.69 L145.94,314.05 L146.66,317.16 L147.37,319.97 L148.09,322.44 L148.8,324.52 L149.52,326.17 L150.23,327.38 L150.95,328.11 L151.66,328.35 M146.93,271.15 L147.65,271.39 L148.36,272.12 L149.08,273.33 L149.79,274.98 L150.51,277.06 L151.22,279.53 L151.94,282.34 L152.65,285.45 L153.37,288.81 L154.08,292.35 L154.8,296.02 L155.51,299.75 L156.23,303.48 L156.94,307.15 L157.66,310.69 L158.37,314.05 L159.09,317.16 L159.8,319.97 L160.52,322.44 L161.23,324.52 L161.95,326.17 L162.66,327.38 L163.38,328.11 L164.09,328.35 M151.13,263.5 L151.85,263.81 L152.56,264.74 L153.28,266.26 L153.99,268.36 L154.71,270.99 L155.42,274.12 L156.14,277.68 L156.85,281.62 L157.57,285.88 L158.28,290.37 L159,295.02 L159.71,299.75 L160.43,304.48 L161.14,309.13 L161.86,313.62 L162.57,317.88 L163.29,321.82 L164,325.38 L164.72,328.51 L165.43,331.14 L166.15,333.24 L166.86,334.76 L167.58,335.69 L168.29,336 M164.63,263.5 L165.35,263.81 L166.06,264.74 L166.78,266.26 L167.49,268.36 L168.21,270.99 L168.92,274.12 L169.64,277.68 L170.35,281.62 L171.07,285.88 L171.78,290.37 L172.5,295.02 L173.21,299.75 L173.93,304.48 L174.64,309.13 L175.36,313.62 L176.07,317.88 L176.79,321.82 L177.5,325.38 L178.22,328.51 L178.93,331.14 L179.65,333.24 L180.36,334.76 L181.08,335.69 L181.79,336 M168.83,271.15 L169.55,271.39 L170.26,272.12 L170.98,273.33 L171.69,274.98 L172.41,277.06 L173.12,279.53 L173.84,282.34 L174.55,285.45 L175.27,288.81 L175.98,292.35 L176.7,296.02 L177.41,299.75 L178.13,303.48 L178.84,307.15 L179.56,310.69 L180.27,314.05 L180.99,317.16 L181.7,319.97 L182.42,322.44 L183.13,324.52 L183.85,326.17 L184.56,327.38 L185.28,328.11 L185.99,328.35 M181.26,271.15 L181.98,271.39 L182.69,272.12 L183.41,273.33 L184.12,274.98 L184.84,277.06 L185.55,279.53 L186.27,282.34 L186.98,285.45 L187.7,288.81 L188.41,292.35 L189.13,296.02 L189.84,299.75 L190.56,303.48 L191.27,307.15 L191.99,310.69 L192.7,314.05 L193.42,317.16 L194.13,319.97 L194.85,322.44 L195.56,324.52 L196.28,326.17 L196.99,327.38 L197.71,328.11 L198.42,328.35 M185.46,263.5 L186.18,263.81 L186.89,264.74 L187.61,266.26 L188.32,268.36 L189.04,270.99 L189.75,274.12 L190.47,277.68 L191.18,281.62 L191.9,285.88 L192.61,290.37 L193.33,295.02 L194.04,299.75 L194.76,304.48 L195.47,309.13 L196.19,313.62 L196.9,317.88 L197.62,321.82 L198.33,325.38 L199.05,328.51 L199.76,331.14 L200.48,333.24 L201.19,334.76 L201.91,335.69 L202.62,336 M198.96,263.5 L199.68,263.81 L200.39,264.74 L201.11,266.26 L201.82,268.36 L202.54,270.99 L203.25,274.12 L203.97,277.68 L204.68,281.62 L205.4,285.88 L206.11,290.37 L206.83,295.02 L207.54,299.75 L208.26,304.48 L208.97,309.13 L209.69,313.62 L210.4,317.88 L211.12,321.82 L211.83,325.38 L212.55,328.51 L213.26,331.14 L213.98,333.24 L214.69,334.76 L215.41,335.69 L216.12,336 M203.16,271.15 L203.88,271.39 L204.59,272.12 L205.31,273.33 L206.02,274.98 L206.74,277.06 L207.45,279.53 L208.17,282.34 L208.88,285.45 L209.6,288.81 L210.31,292.35 L211.03,296.02 L211.74,299.75 L212.46,303.48 L213.17,307.15 L213.89,310.69 L214.6,314.05 L215.32,317.16 L216.03,319.97 L216.75,322.44 L217.46,324.52 L218.18,326.17 L218.89,327.38 L219.61,328.11 L220.32,328.35 M215.59,271.15 L216.31,271.39 L217.02,272.12 L217.74,273.33 L218.45,274.98 L219.17,277.06 L219.88,279.53 L220.6,282.34 L221.31,285.45 L222.03,288.81 L222.74,292.35 L223.46,296.02 L224.17,299.75 L224.89,303.48 L225.6,307.15 L226.32,310.69 L227.03,314.05 L227.75,317.16 L228.46,319.97 L229.18,322.44 L229.89,324.52 L230.61,326.17 L231.32,327.38 L232.04,328.11 L232.75,328.35 M219.79,263.5 L220.51,263.81 L221.22,264.74 L221.94,266.26 L222.65,268.36 L223.37,270.99 L224.08,274.12 L224.8,277.68 L225.51,281.62 L226.23,285.88 L226.94,290.37 L227.66,295.02 L228.37,299.75 L229.09,304.48 L229.8,309.13 L230.52,313.62 L231.23,317.88 L231.95,321.82 L232.66,325.38 L233.38,328.51 L234.09,331.14 L234.81,333.24 L235.52,334.76 L236.24,335.69 L236.95,336 M233.29,263.5 L234.01,263.81 L234.72,264.74 L235.44,266.26 L236.15,268.36 L236.87,270.99 L237.58,274.12 L238.3,277.68 L239.01,281.62 L239.73,285.88 L240.44,290.37 L241.16,295.02 L241.87,299.75 L242.59,304.48 L243.3,309.13 L244.02,313.62 L244.73,317.88 L245.45,321.82 L246.16,325.38 L246.88,328.51 L247.59,331.14 L248.31,333.24 L249.02,334.76 L249.74,335.69 L250.45,336 M237.49,271.15 L238.21,271.39 L238.92,272.12 L239.64,273.33 L240.35,274.98 L241.07,277.06 L241.78,279.53 L242.5,282.34 L243.21,285.45 L243.93,288.81 L244.64,292.35 L245.36,296.02 L246.07,299.75 L246.79,303.48 L247.5,307.15 L248.22,310.69 L248.93,314.05 L249.65,317.16 L250.36,319.97 L251.08,322.44 L251.79,324.52 L252.51,326.17 L253.22,327.38 L253.94,328.11 L254.65,328.35 M249.92,271.15 L250.64,271.39 L251.35,272.12 L252.07,273.33 L252.78,274.98 L253.5,277.06 L254.21,279.53 L254.93,282.34 L255.64,285.45 L256.36,288.81 L257.07,292.35 L257.79,296.02 L258.5,299.75 L259.22,303.48 L259.93,307.15 L260.65,310.69 L261.36,314.05 L262.08,317.16 L262.79,319.97 L263.51,322.44 L264.22,324.52 L264.94,326.17 L265.65,327.38 L266.37,328.11 L267.09,328.35 M254.12,263.5 L254.84,263.81 L255.55,264.74 L256.27,266.26 L256.98,268.36 L257.7,270.99 L258.41,274.12 L259.13,277.68 L259.84,281.62 L260.56,285.88 L261.27,290.37 L261.99,295.02 L262.7,299.75 L263.42,304.48 L264.13,309.13 L264.85,313.62 L265.56,317.88 L266.28,321.82 L266.99,325.38 L267.71,328.51 L268.42,331.14 L269.14,333.24 L269.85,334.76 L270.57,335.69 L271.29,336 M267.62,263.5 L268.34,263.81 L269.05,264.74 L269.77,266.26 L270.48,268.36 L271.2,270.99 L271.91,274.12 L272.63,277.68 L273.34,281.62 L274.06,285.88 L274.77,290.37 L275.49,295.02 L276.2,299.75 L276.92,304.48 L277.63,309.13 L278.35,313.62 L279.06,317.88 L279.78,321.82 L280.49,325.38 L281.21,328.51 L281.92,331.14 L282.64,333.24 L283.35,334.76 L284.07,335.69 L284.79,336 M271.82,271.15 L272.54,271.39 L273.25,272.12 L273.97,273.33 L274.68,274.98 L275.4,277.06 L276.11,279.53 L276.83,282.34 L277.54,285.45 L278.26,288.81 L278.97,292.35 L279.69,296.02 L280.4,299.75 L281.12,303.48 L281.83,307.15 L282.55,310.69 L283.26,314.05 L283.98,317.16 L284.69,319.97 L285.41,322.44 L286.12,324.52 L286.84,326.17 L287.55,327.38 L288.27,328.11 L288.99,328.35 M284.25,271.15 L284.97,271.39 L285.68,272.12 L286.4,273.33 L287.11,274.98 L287.83,277.06 L288.54,279.53 L289.26,282.34 L289.97,285.45 L290.69,288.81 L291.4,292.35 L292.12,296.02 L292.83,299.75 L293.55,303.48 L294.26,307.15 L294.98,310.69 L295.69,314.05 L296.41,317.16 L297.12,319.97 L297.84,322.44 L298.55,324.52 L299.27,326.17 L299.98,327.38 L300.7,328.11 L301.42,328.35 M288.45,263.5 L289.17,263.81 L289.88,264.74 L290.6,266.26 L291.31,268.36 L292.03,270.99 L292.74,274.12 L293.46,277.68 L294.17,281.62 L294.89,285.88 L295.6,290.37 L296.32,295.02 L297.03,299.75 L297.75,304.48 L298.46,309.13 L299.18,313.62 L299.89,317.88 L300.61,321.82 L301.32,325.38 L302.04,328.51 L302.75,331.14 L303.47,333.24 L304.18,334.76 L304.9,335.69 L305.62,336 M301.95,263.5 L302.67,263.81 L303.38,264.74 L304.1,266.26 L304.81,268.36 L305.53,270.99 L306.24,274.12 L306.96,277.68 L307.67,281.62 L308.39,285.88 L309.1,290.37 L309.82,295.02 L310.53,299.75 L311.25,304.48 L311.96,309.13 L312.68,313.62 L313.39,317.88 L314.11,321.82 L314.82,325.38 L315.54,328.51 L316.25,331.14 L316.97,333.24 L317.68,334.76 L318.4,335.69 L319.12,336 M306.15,271.15 L306.87,271.39 L307.58,272.12 L308.3,273.33 L309.01,274.98 L309.73,277.06 L310.44,279.53 L311.16,282.34 L311.87,285.45 L312.59,288.81 L313.3,292.35 L314.02,296.02 L314.73,299.75 L315.45,303.48 L316.16,307.15 L316.88,310.69 L317.59,314.05 L318.31,317.16 L319.02,319.97 L319.74,322.44 L320.45,324.52 L321.17,326.17 L321.88,327.38 L322.6,328.11 L323.31,328.35 M318.58,271.15 L319.3,271.39 L320.01,272.12 L320.73,273.33 L321.44,274.98 L322.16,277.06 L322.87,279.53 L323.59,282.34 L324.3,285.45 L325.02,288.81 L325.73,292.35 L326.45,296.02 L327.16,299.75 L327.88,303.48 L328.59,307.15 L329.31,310.69 L330.02,314.05 L330.74,317.16 L331.45,319.97 L332.17,322.44 L332.88,324.52 L333.6,326.17 L334.31,327.38 L335.03,328.11 L335.75,328.35 M322.78,263.5 L323.5,263.81 L324.21,264.74 L324.93,266.26 L325.64,268.36 L326.36,270.99 L327.07,274.12 L327.79,277.68 L328.5,281.62 L329.22,285.88 L329.93,290.37 L330.65,295.02 L331.36,299.75 L332.08,304.48 L332.79,309.13 L333.51,313.62 L334.22,317.88 L334.94,321.82 L335.65,325.38 L336.37,328.51 L337.08,331.14 L337.8,333.24 L338.51,334.76 L339.23,335.69 L339.94,336 M336.28,263.5 L337,263.81 L337.71,264.74 L338.43,266.26 L339.14,268.36 L339.86,270.99 L340.57,274.12 L341.29,277.68 L342,281.62 L342.72,285.88 L343.43,290.37 L344.15,295.02 L344.86,299.75 L345.58,304.48 L346.29,309.13 L347.01,313.62 L347.72,317.88 L348.44,321.82 L349.15,325.38 L349.87,328.51 L350.58,331.14 L351.3,333.24 L352.01,334.76 L352.73,335.69 L353.44,336 M340.48,271.15 L341.2,271.39 L341.91,272.12 L342.63,273.33 L343.34,274.98 L344.06,277.06 L344.77,279.53 L345.49,282.34 L346.2,285.45 L346.92,288.81 L347.63,292.35 L348.35,296.02 L349.06,299.75 L349.78,303.48 L350.49,307.15 L351.21,310.69 L351.92,314.05 L352.64,317.16 L353.35,319.97 L354.07,322.44 L354.78,324.52 L355.5,326.17 L356.21,327.38 L356.93,328.11 L357.64,328.35 M352.91,271.15 L353.63,271.39 L354.34,272.12 L355.06,273.33 L355.77,274.98 L356.49,277.06 L357.2,279.53 L357.92,282.34 L358.63,285.45 L359.35,288.81 L360.06,292.35 L360.78,296.02 L361.49,299.75 L362.21,303.48 L362.92,307.15 L363.64,310.69 L364.35,314.05 L365.07,317.16 L365.78,319.97 L366.5,322.44 L367.21,324.52 L367.93,326.17 L368.64,327.38 L369.36,328.11 L370.08,328.35 M357.11,263.5 L357.83,263.81 L358.54,264.74 L359.26,266.26 L359.97,268.36 L360.69,270.99 L361.4,274.12 L362.12,277.68 L362.83,281.62 L363.55,285.88 L364.26,290.37 L364.98,295.02 L365.69,299.75 L366.41,304.48 L367.12,309.13 L367.84,313.62 L368.55,317.88 L369.27,321.82 L369.98,325.38 L370.7,328.51 L371.41,331.14 L372.13,333.24 L372.84,334.76 L373.56,335.69 L374.28,336 M370.61,263.5 L371.33,263.81 L372.04,264.74 L372.76,266.26 L373.47,268.36 L374.19,270.99 L374.9,274.12 L375.62,277.68 L376.33,281.62 L377.05,285.88 L377.76,290.37 L378.48,295.02 L379.19,299.75 L379.91,304.48 L380.62,309.13 L381.34,313.62 L382.05,317.88 L382.77,321.82 L383.48,325.38 L384.2,328.51 L384.91,331.14 L385.63,333.24 L386.34,334.76 L387.06,335.69 L387.78,336 M374.81,271.15 L375.53,271.39 L376.24,272.12 L376.96,273.33 L377.67,274.98 L378.39,277.06 L379.1,279.53 L379.82,282.34 L380.53,285.45 L381.25,288.81 L381.96,292.35 L382.68,296.02 L383.39,299.75 L384.11,303.48 L384.82,307.15 L385.54,310.69 L386.25,314.05 L386.97,317.16 L387.68,319.97 L388.4,322.44 L389.11,324.52 L389.83,326.17 L390.54,327.38 L391.26,328.11 L391.98,328.35 M387.24,271.15 L387.96,271.39 L388.67,272.12 L389.39,273.33 L390.1,274.98 L390.82,277.06 L391.53,279.53 L392.25,282.34 L392.96,285.45 L393.68,288.81 L394.39,292.35 L395.11,296.02 L395.82,299.75 L396.54,303.48 L397.25,307.15 L397.97,310.69 L398.68,314.05 L399.4,317.16 L400.11,319.97 L400.83,322.44 L401.54,324.52 L402.26,326.17 L402.97,327.38 L403.69,328.11 L404.41,328.35 M391.44,263.5 L392.16,263.81 L392.87,264.74 L393.59,266.26 L394.3,268.36 L395.02,270.99 L395.73,274.12 L396.45,277.68 L397.16,281.62 L397.88,285.88 L398.59,290.37 L399.31,295.02 L400.02,299.75 L400.74,304.48 L401.45,309.13 L402.17,313.62 L402.88,317.88 L403.6,321.82 L404.31,325.38 L405.03,328.51 L405.74,331.14 L406.46,333.24 L407.17,334.76 L407.89,335.69 L408.61,336 M404.94,263.5 L405.66,263.81 L406.37,264.74 L407.09,266.26 L407.8,268.36 L408.52,270.99 L409.23,274.12 L409.95,277.68 L410.66,281.62 L411.38,285.88 L412.09,290.37 L412.81,295.02 L413.52,299.75 L414.24,304.48 L414.95,309.13 L415.67,313.62 L416.38,317.88 L417.1,321.82 L417.81,325.38 L418.53,328.51 L419.24,331.14 L419.96,333.24 L420.67,334.76 L421.39,335.69 L422.11,336 M409.14,271.15 L409.86,271.39 L410.57,272.12 L411.29,273.33 L412,274.98 L412.72,277.06 L413.43,279.53 L414.15,282.34 L414.86,285.45 L415.58,288.81 L416.29,292.35 L417.01,296.02 L417.72,299.75 L418.44,303.48 L419.15,307.15 L419.87,310.69 L420.58,314.05 L421.3,317.16 L422.01,319.97 L422.73,322.44 L423.44,324.52 L424.16,326.17 L424.87,327.38 L425.59,328.11 L426.31,328.35 M421.57,271.15 L422.29,271.39 L423,272.12 L423.72,273.33 L424.43,274.98 L425.15,277.06 L425.86,279.53 L426.58,282.34 L427.29,285.45 L428.01,288.81 L428.72,292.35 L429.44,296.02 L430.15,299.75 L430.87,303.48 L431.58,307.15 L432.3,310.69 L433.01,314.05 L433.73,317.16 L434.44,319.97 L435.16,322.44 L435.87,324.52 L436.59,326.17 L437.3,327.38 L438.02,328.11 L438.74,328.35 M425.77,263.5 L426.49,263.81 L427.2,264.74 L427.92,266.26 L428.63,268.36 L429.35,270.99 L430.06,274.12 L430.78,277.68 L431.49,281.62 L432.21,285.88 L432.92,290.37 L433.64,295.02 L434.35,299.75 L435.07,304.48 L435.78,309.13 L436.5,313.62 L437.21,317.88 L437.93,321.82 L438.64,325.38 L439.36,328.51 L440.07,331.14 L440.79,333.24 L441.5,334.76 L442.22,335.69 L442.94,336 M439.27,263.5 L439.99,263.81 L440.7,264.74 L441.42,266.26 L442.13,268.36 L442.85,270.99 L443.56,274.12 L444.28,277.68 L444.99,281.62 L445.71,285.88 L446.42,290.37 L447.14,295.02 L447.85,299.75 L448.57,304.48 L449.28,309.13 L450,313.62 L450.71,317.88 L451.43,321.82 L452.14,325.38 L452.4,326.5 M443.47,271.15 L444.19,271.39 L444.9,272.12 L445.62,273.33 L446.33,274.98 L447.05,277.06 L447.76,279.53 L448.48,282.34 L449.19,285.45 L449.91,288.81 L450.62,292.35 L451.34,296.02 L452.05,299.75 L452.4,301.56 M109,271.15 L109,336 M452.4,271.15 L452.4,336 M452.4,276.9 L540.6,276.9 Q543.1,276.9 543.1,279.4 L543.1,320.2 Q543.1,322.7 540.6,322.7 L452.4,322.7 M540.8,277.5 L540.8,322.1 M102.3,442.6 L109.67,442.6 Q111.27,442.6 112.06,443.99 L114.68,448.66 Q115.47,450.05 117.07,450.05 L126.3,450.05 Q127.9,450.05 128.69,448.66 L131.31,443.99 Q132.1,442.6 133.7,442.6 L144,442.6 Q145.6,442.6 146.39,443.99 L149.01,448.66 Q149.8,450.05 151.4,450.05 L160.63,450.05 Q162.23,450.05 163.02,448.66 L165.64,443.99 Q166.43,442.6 168.03,442.6 L178.33,442.6 Q179.93,442.6 180.72,443.99 L183.34,448.66 Q184.13,450.05 185.73,450.05 L194.96,450.05 Q196.56,450.05 197.35,448.66 L199.97,443.99 Q200.76,442.6 202.36,442.6 L212.66,442.6 Q214.26,442.6 215.05,443.99 L217.67,448.66 Q218.46,450.05 220.06,450.05 L229.29,450.05 Q230.89,450.05 231.68,448.66 L234.3,443.99 Q235.09,442.6 236.69,442.6 L246.99,442.6 Q248.59,442.6 249.38,443.99 L252,448.66 Q252.79,450.05 254.39,450.05 L263.62,450.05 Q265.22,450.05 266.01,448.66 L268.63,443.99 Q269.42,442.6 271.02,442.6 L281.32,442.6 Q282.92,442.6 283.71,443.99 L286.33,448.66 Q287.12,450.05 288.72,450.05 L297.95,450.05 Q299.55,450.05 300.34,448.66 L302.96,443.99 Q303.75,442.6 305.35,442.6 L315.65,442.6 Q317.25,442.6 318.04,443.99 L320.66,448.66 Q321.45,450.05 323.05,450.05 L332.28,450.05 Q333.88,450.05 334.67,448.66 L337.29,443.99 Q338.08,442.6 339.68,442.6 L349.98,442.6 Q351.58,442.6 352.37,443.99 L354.99,448.66 Q355.78,450.05 357.38,450.05 L366.61,450.05 Q368.21,450.05 369,448.66 L371.62,443.99 Q372.41,442.6 374.01,442.6 L384.31,442.6 Q385.91,442.6 386.7,443.99 L389.32,448.66 Q390.11,450.05 391.71,450.05 L400.94,450.05 Q402.54,450.05 403.33,448.66 L405.95,443.99 Q406.74,442.6 408.34,442.6 L418.64,442.6 Q420.24,442.6 421.03,443.99 L423.65,448.66 Q424.44,450.05 426.04,450.05 L435.27,450.05 Q436.87,450.05 437.66,448.66 L440.28,443.99 Q441.07,442.6 442.67,442.6 L452.97,442.6 Q454.57,442.6 455.36,443.99 L457.98,448.66 Q458.77,450.05 460.37,450.05 L469.6,450.05 Q471.2,450.05 471.99,448.66 L474.61,443.99 Q475.4,442.6 477,442.6 L487.3,442.6 Q488.9,442.6 489.69,443.99 L492.31,448.66 Q493.1,450.05 494.7,450.05 L503.93,450.05 Q505.53,450.05 506.32,448.66 L508.94,443.99 Q509.73,442.6 511.33,442.6 L521.63,442.6 Q523.23,442.6 524.02,443.99 L526.9,449.11 M102.3,507.35 L109.14,507.35 Q110.73,507.35 111.52,508.74 L114.15,513.41 Q114.94,514.8 116.53,514.8 L126.84,514.8 Q128.44,514.8 129.22,513.41 L131.85,508.74 Q132.63,507.35 134.23,507.35 L143.47,507.35 Q145.06,507.35 145.85,508.74 L148.48,513.41 Q149.26,514.8 150.86,514.8 L161.16,514.8 Q162.76,514.8 163.55,513.41 L166.18,508.74 Q166.96,507.35 168.56,507.35 L177.79,507.35 Q179.39,507.35 180.18,508.74 L182.81,513.41 Q183.59,514.8 185.19,514.8 L195.5,514.8 Q197.09,514.8 197.88,513.41 L200.51,508.74 Q201.29,507.35 202.89,507.35 L212.12,507.35 Q213.72,507.35 214.51,508.74 L217.14,513.41 Q217.93,514.8 219.53,514.8 L229.83,514.8 Q231.43,514.8 232.21,513.41 L234.84,508.74 Q235.62,507.35 237.22,507.35 L246.46,507.35 Q248.06,507.35 248.84,508.74 L251.47,513.41 Q252.25,514.8 253.85,514.8 L264.15,514.8 Q265.75,514.8 266.54,513.41 L269.17,508.74 Q269.95,507.35 271.56,507.35 L280.78,507.35 Q282.38,507.35 283.17,508.74 L285.8,513.41 Q286.58,514.8 288.19,514.8 L298.48,514.8 Q300.08,514.8 300.87,513.41 L303.5,508.74 Q304.28,507.35 305.88,507.35 L315.11,507.35 Q316.71,507.35 317.5,508.74 L320.13,513.41 Q320.91,514.8 322.51,514.8 L332.81,514.8 Q334.41,514.8 335.2,513.41 L337.83,508.74 Q338.61,507.35 340.21,507.35 L349.44,507.35 Q351.04,507.35 351.83,508.74 L354.46,513.41 Q355.25,514.8 356.85,514.8 L367.14,514.8 Q368.75,514.8 369.53,513.41 L372.16,508.74 Q372.94,507.35 374.55,507.35 L383.77,507.35 Q385.38,507.35 386.16,508.74 L388.79,513.41 Q389.57,514.8 391.18,514.8 L401.47,514.8 Q403.07,514.8 403.86,513.41 L406.49,508.74 Q407.27,507.35 408.88,507.35 L418.1,507.35 Q419.7,507.35 420.49,508.74 L423.12,513.41 Q423.9,514.8 425.5,514.8 L435.8,514.8 Q437.4,514.8 438.19,513.41 L440.82,508.74 Q441.6,507.35 443.2,507.35 L452.43,507.35 Q454.03,507.35 454.82,508.74 L457.45,513.41 Q458.23,514.8 459.83,514.8 L470.13,514.8 Q471.73,514.8 472.52,513.41 L475.15,508.74 Q475.93,507.35 477.53,507.35 L486.76,507.35 Q488.36,507.35 489.15,508.74 L491.78,513.41 Q492.56,514.8 494.17,514.8 L504.46,514.8 Q506.06,514.8 506.85,513.41 L509.48,508.74 Q510.26,507.35 511.87,507.35 L521.1,507.35 Q522.7,507.35 523.48,508.74 L526.11,513.41 Q526.89,514.8 526.9,514.8 L526.9,514.8 M102.3,479.47 L102.87,482.44 L103.58,486.12 L104.3,489.66 L105.01,493.02 L105.73,496.14 L106.44,498.96 L107.16,501.43 L107.87,503.51 L108.59,505.17 L109.3,506.37 L110.02,507.1 L110.73,507.35 M102.3,454.36 L102.78,456.72 L103.49,460.65 L104.21,464.89 L104.92,469.36 L105.64,473.99 L106.35,478.7 L107.07,483.41 L107.78,488.04 L108.5,492.51 L109.21,496.75 L109.93,500.68 L110.64,504.23 L111.36,507.34 L112.07,509.96 L112.79,512.05 L113.5,513.57 L114.22,514.49 L114.94,514.8 M111.27,442.6 L111.99,442.91 L112.7,443.83 L113.42,445.35 L114.13,447.44 L114.85,450.06 L115.56,453.17 L116.28,456.72 L116.99,460.65 L117.71,464.89 L118.42,469.36 L119.14,473.99 L119.85,478.7 L120.57,483.41 L121.28,488.04 L122,492.51 L122.71,496.75 L123.43,500.68 L124.14,504.23 L124.86,507.34 L125.57,509.96 L126.29,512.05 L127,513.57 L127.72,514.49 L128.44,514.8 M115.47,450.05 L116.19,450.3 L116.9,451.03 L117.62,452.23 L118.33,453.89 L119.05,455.97 L119.76,458.44 L120.48,461.26 L121.19,464.38 L121.91,467.74 L122.62,471.28 L123.34,474.96 L124.05,478.7 L124.77,482.44 L125.48,486.12 L126.2,489.66 L126.91,493.02 L127.63,496.14 L128.34,498.96 L129.06,501.43 L129.77,503.51 L130.49,505.17 L131.2,506.37 L131.92,507.1 L132.63,507.35 M127.9,450.05 L128.62,450.3 L129.33,451.03 L130.05,452.23 L130.76,453.89 L131.48,455.97 L132.19,458.44 L132.91,461.26 L133.62,464.38 L134.34,467.74 L135.05,471.28 L135.77,474.96 L136.48,478.7 L137.2,482.44 L137.91,486.12 L138.63,489.66 L139.34,493.02 L140.06,496.14 L140.77,498.96 L141.49,501.43 L142.2,503.51 L142.92,505.17 L143.63,506.37 L144.35,507.1 L145.06,507.35 M132.1,442.6 L132.82,442.91 L133.53,443.83 L134.25,445.35 L134.96,447.44 L135.68,450.06 L136.39,453.17 L137.11,456.72 L137.82,460.65 L138.54,464.89 L139.25,469.36 L139.97,473.99 L140.68,478.7 L141.4,483.41 L142.11,488.04 L142.83,492.51 L143.54,496.75 L144.26,500.68 L144.97,504.23 L145.69,507.34 L146.4,509.96 L147.12,512.05 L147.83,513.57 L148.55,514.49 L149.26,514.8 M145.6,442.6 L146.32,442.91 L147.03,443.83 L147.75,445.35 L148.46,447.44 L149.18,450.06 L149.89,453.17 L150.61,456.72 L151.32,460.65 L152.04,464.89 L152.75,469.36 L153.47,473.99 L154.18,478.7 L154.9,483.41 L155.61,488.04 L156.33,492.51 L157.04,496.75 L157.76,500.68 L158.47,504.23 L159.19,507.34 L159.9,509.96 L160.62,512.05 L161.33,513.57 L162.05,514.49 L162.76,514.8 M149.8,450.05 L150.52,450.3 L151.23,451.03 L151.95,452.23 L152.66,453.89 L153.38,455.97 L154.09,458.44 L154.81,461.26 L155.52,464.38 L156.24,467.74 L156.95,471.28 L157.67,474.96 L158.38,478.7 L159.1,482.44 L159.81,486.12 L160.53,489.66 L161.24,493.02 L161.96,496.14 L162.67,498.96 L163.39,501.43 L164.1,503.51 L164.82,505.17 L165.53,506.37 L166.25,507.1 L166.96,507.35 M162.23,450.05 L162.95,450.3 L163.66,451.03 L164.38,452.23 L165.09,453.89 L165.81,455.97 L166.52,458.44 L167.24,461.26 L167.95,464.38 L168.67,467.74 L169.38,471.28 L170.1,474.96 L170.81,478.7 L171.53,482.44 L172.24,486.12 L172.96,489.66 L173.67,493.02 L174.39,496.14 L175.1,498.96 L175.82,501.43 L176.53,503.51 L177.25,505.17 L177.96,506.37 L178.68,507.1 L179.4,507.35 M166.43,442.6 L167.15,442.91 L167.86,443.83 L168.58,445.35 L169.29,447.44 L170.01,450.06 L170.72,453.17 L171.44,456.72 L172.15,460.65 L172.87,464.89 L173.58,469.36 L174.3,473.99 L175.01,478.7 L175.73,483.41 L176.44,488.04 L177.16,492.51 L177.87,496.75 L178.59,500.68 L179.3,504.23 L180.02,507.34 L180.73,509.96 L181.45,512.05 L182.16,513.57 L182.88,514.49 L183.59,514.8 M179.93,442.6 L180.65,442.91 L181.36,443.83 L182.08,445.35 L182.79,447.44 L183.51,450.06 L184.22,453.17 L184.94,456.72 L185.65,460.65 L186.37,464.89 L187.08,469.36 L187.8,473.99 L188.51,478.7 L189.23,483.41 L189.94,488.04 L190.66,492.51 L191.37,496.75 L192.09,500.68 L192.8,504.23 L193.52,507.34 L194.23,509.96 L194.95,512.05 L195.66,513.57 L196.38,514.49 L197.09,514.8 M184.13,450.05 L184.85,450.3 L185.56,451.03 L186.28,452.23 L186.99,453.89 L187.71,455.97 L188.42,458.44 L189.14,461.26 L189.85,464.38 L190.57,467.74 L191.28,471.28 L192,474.96 L192.71,478.7 L193.43,482.44 L194.14,486.12 L194.86,489.66 L195.57,493.02 L196.29,496.14 L197,498.96 L197.72,501.43 L198.43,503.51 L199.15,505.17 L199.86,506.37 L200.58,507.1 L201.29,507.35 M196.56,450.05 L197.28,450.3 L197.99,451.03 L198.71,452.23 L199.42,453.89 L200.14,455.97 L200.85,458.44 L201.57,461.26 L202.28,464.38 L203,467.74 L203.71,471.28 L204.43,474.96 L205.14,478.7 L205.86,482.44 L206.57,486.12 L207.29,489.66 L208,493.02 L208.72,496.14 L209.43,498.96 L210.15,501.43 L210.86,503.51 L211.58,505.17 L212.29,506.37 L213.01,507.1 L213.72,507.35 M200.76,442.6 L201.48,442.91 L202.19,443.83 L202.91,445.35 L203.62,447.44 L204.34,450.06 L205.05,453.17 L205.77,456.72 L206.48,460.65 L207.2,464.89 L207.91,469.36 L208.63,473.99 L209.34,478.7 L210.06,483.41 L210.77,488.04 L211.49,492.51 L212.2,496.75 L212.92,500.68 L213.63,504.23 L214.35,507.34 L215.06,509.96 L215.78,512.05 L216.49,513.57 L217.21,514.49 L217.92,514.8 M214.26,442.6 L214.98,442.91 L215.69,443.83 L216.41,445.35 L217.12,447.44 L217.84,450.06 L218.55,453.17 L219.27,456.72 L219.98,460.65 L220.7,464.89 L221.41,469.36 L222.13,473.99 L222.84,478.7 L223.56,483.41 L224.27,488.04 L224.99,492.51 L225.7,496.75 L226.42,500.68 L227.13,504.23 L227.85,507.34 L228.56,509.96 L229.28,512.05 L229.99,513.57 L230.71,514.49 L231.42,514.8 M218.46,450.05 L219.18,450.3 L219.89,451.03 L220.61,452.23 L221.32,453.89 L222.04,455.97 L222.75,458.44 L223.47,461.26 L224.18,464.38 L224.9,467.74 L225.61,471.28 L226.33,474.96 L227.04,478.7 L227.76,482.44 L228.47,486.12 L229.19,489.66 L229.9,493.02 L230.62,496.14 L231.33,498.96 L232.05,501.43 L232.76,503.51 L233.48,505.17 L234.19,506.37 L234.91,507.1 L235.62,507.35 M230.89,450.05 L231.61,450.3 L232.32,451.03 L233.04,452.23 L233.75,453.89 L234.47,455.97 L235.18,458.44 L235.9,461.26 L236.61,464.38 L237.33,467.74 L238.04,471.28 L238.76,474.96 L239.47,478.7 L240.19,482.44 L240.9,486.12 L241.62,489.66 L242.33,493.02 L243.05,496.14 L243.76,498.96 L244.48,501.43 L245.19,503.51 L245.91,505.17 L246.62,506.37 L247.34,507.1 L248.05,507.35 M235.09,442.6 L235.81,442.91 L236.52,443.83 L237.24,445.35 L237.95,447.44 L238.67,450.06 L239.38,453.17 L240.1,456.72 L240.81,460.65 L241.53,464.89 L242.24,469.36 L242.96,473.99 L243.67,478.7 L244.39,483.41 L245.1,488.04 L245.82,492.51 L246.53,496.75 L247.25,500.68 L247.96,504.23 L248.68,507.34 L249.39,509.96 L250.11,512.05 L250.82,513.57 L251.54,514.49 L252.25,514.8 M248.59,442.6 L249.31,442.91 L250.02,443.83 L250.74,445.35 L251.45,447.44 L252.17,450.06 L252.88,453.17 L253.6,456.72 L254.31,460.65 L255.03,464.89 L255.74,469.36 L256.46,473.99 L257.17,478.7 L257.89,483.41 L258.6,488.04 L259.32,492.51 L260.03,496.75 L260.75,500.68 L261.46,504.23 L262.18,507.34 L262.89,509.96 L263.61,512.05 L264.32,513.57 L265.04,514.49 L265.75,514.8 M252.79,450.05 L253.51,450.3 L254.22,451.03 L254.94,452.23 L255.65,453.89 L256.37,455.97 L257.08,458.44 L257.8,461.26 L258.51,464.38 L259.23,467.74 L259.94,471.28 L260.66,474.96 L261.37,478.7 L262.09,482.44 L262.8,486.12 L263.52,489.66 L264.23,493.02 L264.95,496.14 L265.66,498.96 L266.38,501.43 L267.09,503.51 L267.81,505.17 L268.52,506.37 L269.24,507.1 L269.95,507.35 M265.22,450.05 L265.94,450.3 L266.65,451.03 L267.37,452.23 L268.08,453.89 L268.8,455.97 L269.51,458.44 L270.23,461.26 L270.94,464.38 L271.66,467.74 L272.37,471.28 L273.09,474.96 L273.8,478.7 L274.52,482.44 L275.23,486.12 L275.95,489.66 L276.66,493.02 L277.38,496.14 L278.09,498.96 L278.81,501.43 L279.52,503.51 L280.24,505.17 L280.95,506.37 L281.67,507.1 L282.38,507.35 M269.42,442.6 L270.14,442.91 L270.85,443.83 L271.57,445.35 L272.28,447.44 L273,450.06 L273.71,453.17 L274.43,456.72 L275.14,460.65 L275.86,464.89 L276.57,469.36 L277.29,473.99 L278,478.7 L278.72,483.41 L279.43,488.04 L280.15,492.51 L280.86,496.75 L281.58,500.68 L282.29,504.23 L283.01,507.34 L283.72,509.96 L284.44,512.05 L285.15,513.57 L285.87,514.49 L286.58,514.8 M282.92,442.6 L283.64,442.91 L284.35,443.83 L285.07,445.35 L285.78,447.44 L286.5,450.06 L287.21,453.17 L287.93,456.72 L288.64,460.65 L289.36,464.89 L290.07,469.36 L290.79,473.99 L291.5,478.7 L292.22,483.41 L292.93,488.04 L293.65,492.51 L294.36,496.75 L295.08,500.68 L295.79,504.23 L296.51,507.34 L297.22,509.96 L297.94,512.05 L298.65,513.57 L299.37,514.49 L300.08,514.8 M287.12,450.05 L287.84,450.3 L288.55,451.03 L289.27,452.23 L289.98,453.89 L290.7,455.97 L291.41,458.44 L292.13,461.26 L292.84,464.38 L293.56,467.74 L294.27,471.28 L294.99,474.96 L295.7,478.7 L296.42,482.44 L297.13,486.12 L297.85,489.66 L298.56,493.02 L299.28,496.14 L299.99,498.96 L300.71,501.43 L301.42,503.51 L302.14,505.17 L302.85,506.37 L303.57,507.1 L304.28,507.35 M299.55,450.05 L300.27,450.3 L300.98,451.03 L301.7,452.23 L302.41,453.89 L303.13,455.97 L303.84,458.44 L304.56,461.26 L305.27,464.38 L305.99,467.74 L306.7,471.28 L307.42,474.96 L308.13,478.7 L308.85,482.44 L309.56,486.12 L310.28,489.66 L310.99,493.02 L311.71,496.14 L312.42,498.96 L313.14,501.43 L313.85,503.51 L314.57,505.17 L315.28,506.37 L316,507.1 L316.72,507.35 M303.75,442.6 L304.47,442.91 L305.18,443.83 L305.9,445.35 L306.61,447.44 L307.33,450.06 L308.04,453.17 L308.76,456.72 L309.47,460.65 L310.19,464.89 L310.9,469.36 L311.62,473.99 L312.33,478.7 L313.05,483.41 L313.76,488.04 L314.48,492.51 L315.19,496.75 L315.91,500.68 L316.62,504.23 L317.34,507.34 L318.05,509.96 L318.77,512.05 L319.48,513.57 L320.2,514.49 L320.92,514.8 M317.25,442.6 L317.97,442.91 L318.68,443.83 L319.4,445.35 L320.11,447.44 L320.83,450.06 L321.54,453.17 L322.26,456.72 L322.97,460.65 L323.69,464.89 L324.4,469.36 L325.12,473.99 L325.83,478.7 L326.55,483.41 L327.26,488.04 L327.98,492.51 L328.69,496.75 L329.41,500.68 L330.12,504.23 L330.84,507.34 L331.55,509.96 L332.27,512.05 L332.98,513.57 L333.7,514.49 L334.42,514.8 M321.45,450.05 L322.17,450.3 L322.88,451.03 L323.6,452.23 L324.31,453.89 L325.03,455.97 L325.74,458.44 L326.46,461.26 L327.17,464.38 L327.89,467.74 L328.6,471.28 L329.32,474.96 L330.03,478.7 L330.75,482.44 L331.46,486.12 L332.18,489.66 L332.89,493.02 L333.61,496.14 L334.32,498.96 L335.04,501.43 L335.75,503.51 L336.47,505.17 L337.18,506.37 L337.9,507.1 L338.62,507.35 M333.88,450.05 L334.6,450.3 L335.31,451.03 L336.03,452.23 L336.74,453.89 L337.46,455.97 L338.17,458.44 L338.89,461.26 L339.6,464.38 L340.32,467.74 L341.03,471.28 L341.75,474.96 L342.46,478.7 L343.18,482.44 L343.89,486.12 L344.61,489.66 L345.32,493.02 L346.04,496.14 L346.75,498.96 L347.47,501.43 L348.18,503.51 L348.9,505.17 L349.61,506.37 L350.33,507.1 L351.05,507.35 M338.08,442.6 L338.8,442.91 L339.51,443.83 L340.23,445.35 L340.94,447.44 L341.66,450.06 L342.37,453.17 L343.09,456.72 L343.8,460.65 L344.52,464.89 L345.23,469.36 L345.95,473.99 L346.66,478.7 L347.38,483.41 L348.09,488.04 L348.81,492.51 L349.52,496.75 L350.24,500.68 L350.95,504.23 L351.67,507.34 L352.38,509.96 L353.1,512.05 L353.81,513.57 L354.53,514.49 L355.25,514.8 M351.58,442.6 L352.3,442.91 L353.01,443.83 L353.73,445.35 L354.44,447.44 L355.16,450.06 L355.87,453.17 L356.59,456.72 L357.3,460.65 L358.02,464.89 L358.73,469.36 L359.45,473.99 L360.16,478.7 L360.88,483.41 L361.59,488.04 L362.31,492.51 L363.02,496.75 L363.74,500.68 L364.45,504.23 L365.17,507.34 L365.88,509.96 L366.6,512.05 L367.31,513.57 L368.03,514.49 L368.75,514.8 M355.78,450.05 L356.5,450.3 L357.21,451.03 L357.93,452.23 L358.64,453.89 L359.36,455.97 L360.07,458.44 L360.79,461.26 L361.5,464.38 L362.22,467.74 L362.93,471.28 L363.65,474.96 L364.36,478.7 L365.08,482.44 L365.79,486.12 L366.51,489.66 L367.22,493.02 L367.94,496.14 L368.65,498.96 L369.37,501.43 L370.08,503.51 L370.8,505.17 L371.51,506.37 L372.23,507.1 L372.94,507.35 M368.21,450.05 L368.93,450.3 L369.64,451.03 L370.36,452.23 L371.07,453.89 L371.79,455.97 L372.5,458.44 L373.22,461.26 L373.93,464.38 L374.65,467.74 L375.36,471.28 L376.08,474.96 L376.79,478.7 L377.51,482.44 L378.22,486.12 L378.94,489.66 L379.65,493.02 L380.37,496.14 L381.08,498.96 L381.8,501.43 L382.51,503.51 L383.23,505.17 L383.94,506.37 L384.66,507.1 L385.38,507.35 M372.41,442.6 L373.13,442.91 L373.84,443.83 L374.56,445.35 L375.27,447.44 L375.99,450.06 L376.7,453.17 L377.42,456.72 L378.13,460.65 L378.85,464.89 L379.56,469.36 L380.28,473.99 L380.99,478.7 L381.71,483.41 L382.42,488.04 L383.14,492.51 L383.85,496.75 L384.57,500.68 L385.28,504.23 L386,507.34 L386.71,509.96 L387.43,512.05 L388.14,513.57 L388.86,514.49 L389.57,514.8 M385.91,442.6 L386.63,442.91 L387.34,443.83 L388.06,445.35 L388.77,447.44 L389.49,450.06 L390.2,453.17 L390.92,456.72 L391.63,460.65 L392.35,464.89 L393.06,469.36 L393.78,473.99 L394.49,478.7 L395.21,483.41 L395.92,488.04 L396.64,492.51 L397.35,496.75 L398.07,500.68 L398.78,504.23 L399.5,507.34 L400.21,509.96 L400.93,512.05 L401.64,513.57 L402.36,514.49 L403.07,514.8 M390.11,450.05 L390.83,450.3 L391.54,451.03 L392.26,452.23 L392.97,453.89 L393.69,455.97 L394.4,458.44 L395.12,461.26 L395.83,464.38 L396.55,467.74 L397.26,471.28 L397.98,474.96 L398.69,478.7 L399.41,482.44 L400.12,486.12 L400.84,489.66 L401.55,493.02 L402.27,496.14 L402.98,498.96 L403.7,501.43 L404.41,503.51 L405.13,505.17 L405.84,506.37 L406.56,507.1 L407.27,507.35 M402.54,450.05 L403.26,450.3 L403.97,451.03 L404.69,452.23 L405.4,453.89 L406.12,455.97 L406.83,458.44 L407.55,461.26 L408.26,464.38 L408.98,467.74 L409.69,471.28 L410.41,474.96 L411.12,478.7 L411.84,482.44 L412.55,486.12 L413.27,489.66 L413.98,493.02 L414.7,496.14 L415.41,498.96 L416.13,501.43 L416.84,503.51 L417.56,505.17 L418.27,506.37 L418.99,507.1 L419.7,507.35 M406.74,442.6 L407.46,442.91 L408.17,443.83 L408.89,445.35 L409.6,447.44 L410.32,450.06 L411.03,453.17 L411.75,456.72 L412.46,460.65 L413.18,464.89 L413.89,469.36 L414.61,473.99 L415.32,478.7 L416.04,483.41 L416.75,488.04 L417.47,492.51 L418.18,496.75 L418.9,500.68 L419.61,504.23 L420.33,507.34 L421.04,509.96 L421.76,512.05 L422.47,513.57 L423.19,514.49 L423.9,514.8 M420.24,442.6 L420.96,442.91 L421.67,443.83 L422.39,445.35 L423.1,447.44 L423.82,450.06 L424.53,453.17 L425.25,456.72 L425.96,460.65 L426.68,464.89 L427.39,469.36 L428.11,473.99 L428.82,478.7 L429.54,483.41 L430.25,488.04 L430.97,492.51 L431.68,496.75 L432.4,500.68 L433.11,504.23 L433.83,507.34 L434.54,509.96 L435.26,512.05 L435.97,513.57 L436.69,514.49 L437.4,514.8 M424.44,450.05 L425.16,450.3 L425.87,451.03 L426.59,452.23 L427.3,453.89 L428.02,455.97 L428.73,458.44 L429.45,461.26 L430.16,464.38 L430.88,467.74 L431.59,471.28 L432.31,474.96 L433.02,478.7 L433.74,482.44 L434.45,486.12 L435.17,489.66 L435.88,493.02 L436.6,496.14 L437.31,498.96 L438.03,501.43 L438.74,503.51 L439.46,505.17 L440.17,506.37 L440.89,507.1 L441.6,507.35 M436.87,450.05 L437.59,450.3 L438.3,451.03 L439.02,452.23 L439.73,453.89 L440.45,455.97 L441.16,458.44 L441.88,461.26 L442.59,464.38 L443.31,467.74 L444.02,471.28 L444.74,474.96 L445.45,478.7 L446.17,482.44 L446.88,486.12 L447.6,489.66 L448.31,493.02 L449.03,496.14 L449.74,498.96 L450.46,501.43 L451.17,503.51 L451.89,505.17 L452.6,506.37 L453.32,507.1 L454.03,507.35 M441.07,442.6 L441.79,442.91 L442.5,443.83 L443.22,445.35 L443.93,447.44 L444.65,450.06 L445.36,453.17 L446.08,456.72 L446.79,460.65 L447.51,464.89 L448.22,469.36 L448.94,473.99 L449.65,478.7 L450.37,483.41 L451.08,488.04 L451.8,492.51 L452.51,496.75 L453.23,500.68 L453.94,504.23 L454.66,507.34 L455.37,509.96 L456.09,512.05 L456.8,513.57 L457.52,514.49 L458.23,514.8 M454.57,442.6 L455.29,442.91 L456,443.83 L456.72,445.35 L457.43,447.44 L458.15,450.06 L458.86,453.17 L459.58,456.72 L460.29,460.65 L461.01,464.89 L461.72,469.36 L462.44,473.99 L463.15,478.7 L463.87,483.41 L464.58,488.04 L465.3,492.51 L466.01,496.75 L466.73,500.68 L467.44,504.23 L468.16,507.34 L468.87,509.96 L469.59,512.05 L470.3,513.57 L471.02,514.49 L471.73,514.8 M458.77,450.05 L459.49,450.3 L460.2,451.03 L460.92,452.23 L461.63,453.89 L462.35,455.97 L463.06,458.44 L463.78,461.26 L464.49,464.38 L465.21,467.74 L465.92,471.28 L466.64,474.96 L467.35,478.7 L468.07,482.44 L468.78,486.12 L469.5,489.66 L470.21,493.02 L470.93,496.14 L471.64,498.96 L472.36,501.43 L473.07,503.51 L473.79,505.17 L474.5,506.37 L475.22,507.1 L475.93,507.35 M471.2,450.05 L471.92,450.3 L472.63,451.03 L473.35,452.23 L474.06,453.89 L474.78,455.97 L475.49,458.44 L476.21,461.26 L476.92,464.38 L477.64,467.74 L478.35,471.28 L479.07,474.96 L479.78,478.7 L480.5,482.44 L481.21,486.12 L481.93,489.66 L482.64,493.02 L483.36,496.14 L484.07,498.96 L484.79,501.43 L485.5,503.51 L486.22,505.17 L486.93,506.37 L487.65,507.1 L488.37,507.35 M475.4,442.6 L476.12,442.91 L476.83,443.83 L477.55,445.35 L478.26,447.44 L478.98,450.06 L479.69,453.17 L480.41,456.72 L481.12,460.65 L481.84,464.89 L482.55,469.36 L483.27,473.99 L483.98,478.7 L484.7,483.41 L485.41,488.04 L486.13,492.51 L486.84,496.75 L487.56,500.68 L488.27,504.23 L488.99,507.34 L489.7,509.96 L490.42,512.05 L491.13,513.57 L491.85,514.49 L492.56,514.8 M488.9,442.6 L489.62,442.91 L490.33,443.83 L491.05,445.35 L491.76,447.44 L492.48,450.06 L493.19,453.17 L493.91,456.72 L494.62,460.65 L495.34,464.89 L496.05,469.36 L496.77,473.99 L497.48,478.7 L498.2,483.41 L498.91,488.04 L499.63,492.51 L500.34,496.75 L501.06,500.68 L501.77,504.23 L502.49,507.34 L503.2,509.96 L503.92,512.05 L504.63,513.57 L505.35,514.49 L506.06,514.8 M493.1,450.05 L493.82,450.3 L494.53,451.03 L495.25,452.23 L495.96,453.89 L496.68,455.97 L497.39,458.44 L498.11,461.26 L498.82,464.38 L499.54,467.74 L500.25,471.28 L500.97,474.96 L501.68,478.7 L502.4,482.44 L503.11,486.12 L503.83,489.66 L504.54,493.02 L505.26,496.14 L505.97,498.96 L506.69,501.43 L507.4,503.51 L508.12,505.17 L508.83,506.37 L509.55,507.1 L510.26,507.35 M505.53,450.05 L506.25,450.3 L506.96,451.03 L507.68,452.23 L508.39,453.89 L509.11,455.97 L509.82,458.44 L510.54,461.26 L511.25,464.38 L511.97,467.74 L512.68,471.28 L513.4,474.96 L514.11,478.7 L514.83,482.44 L515.54,486.12 L516.26,489.66 L516.97,493.02 L517.69,496.14 L518.4,498.96 L519.12,501.43 L519.83,503.51 L520.55,505.17 L521.26,506.37 L521.98,507.1 L522.69,507.35 M509.73,442.6 L510.45,442.91 L511.16,443.83 L511.88,445.35 L512.59,447.44 L513.31,450.06 L514.02,453.17 L514.74,456.72 L515.45,460.65 L516.17,464.89 L516.88,469.36 L517.6,473.99 L518.31,478.7 L519.03,483.41 L519.74,488.04 L520.46,492.51 L521.17,496.75 L521.89,500.68 L522.6,504.23 L523.32,507.34 L524.03,509.96 L524.75,512.05 L525.46,513.57 L526.18,514.49 L526.89,514.8 M523.23,442.6 L523.95,442.91 L524.66,443.83 L525.38,445.35 L526.09,447.44 L526.81,450.06 L526.9,450.47 M102.3,442.6 L102.3,507.35 M526.9,449.11 L526.9,514.8 M526.9,450.05 L534.4,450.05 Q536.4,450.05 536.4,452.05 L536.4,506.6 L526.9,514.8 M527.7,451.2 L535,475.5 M530,451 L535.6,470 M109,646.3 L111.1,646.3 Q112.7,646.3 113.47,644.9 L116.13,640.1 Q116.9,638.7 118.5,638.7 L128.8,638.7 Q130.4,638.7 131.17,640.1 L133.83,644.9 Q134.6,646.3 136.2,646.3 L145.43,646.3 Q147.03,646.3 147.8,644.9 L150.46,640.1 Q151.23,638.7 152.83,638.7 L163.13,638.7 Q164.73,638.7 165.5,640.1 L168.16,644.9 Q168.93,646.3 170.53,646.3 L179.76,646.3 Q181.36,646.3 182.13,644.9 L184.79,640.1 Q185.56,638.7 187.16,638.7 L197.46,638.7 Q199.06,638.7 199.83,640.1 L202.49,644.9 Q203.26,646.3 204.86,646.3 L214.09,646.3 Q215.69,646.3 216.46,644.9 L219.12,640.1 Q219.89,638.7 221.49,638.7 L231.79,638.7 Q233.39,638.7 234.16,640.1 L236.82,644.9 Q237.59,646.3 239.19,646.3 L248.42,646.3 Q250.02,646.3 250.79,644.9 L253.45,640.1 Q254.22,638.7 255.82,638.7 L266.12,638.7 Q267.72,638.7 268.49,640.1 L271.15,644.9 Q271.92,646.3 273.52,646.3 L282.75,646.3 Q284.35,646.3 285.12,644.9 L287.78,640.1 Q288.55,638.7 290.15,638.7 L300.45,638.7 Q302.05,638.7 302.82,640.1 L305.48,644.9 Q306.25,646.3 307.85,646.3 L317.08,646.3 Q318.68,646.3 319.45,644.9 L322.11,640.1 Q322.88,638.7 324.48,638.7 L334.78,638.7 Q336.38,638.7 337.15,640.1 L339.81,644.9 Q340.58,646.3 342.18,646.3 L351.41,646.3 Q353.01,646.3 353.78,644.9 L356.44,640.1 Q357.21,638.7 358.81,638.7 L369.11,638.7 Q370.71,638.7 371.48,640.1 L374.14,644.9 Q374.91,646.3 376.51,646.3 L385.74,646.3 Q387.34,646.3 388.11,644.9 L390.77,640.1 Q391.54,638.7 393.14,638.7 L403.44,638.7 Q405.04,638.7 405.81,640.1 L408.47,644.9 Q409.24,646.3 410.84,646.3 L420.07,646.3 Q421.67,646.3 422.44,644.9 L425.1,640.1 Q425.87,638.7 427.47,638.7 L437.77,638.7 Q439.37,638.7 440.14,640.1 L442.8,644.9 Q443.57,646.3 445.17,646.3 L452.3,646.3 M109,711.2 L111.64,711.2 Q113.23,711.2 114.01,709.8 L116.66,705 Q117.44,703.6 119.03,703.6 L128.27,703.6 Q129.87,703.6 130.64,705 L133.29,709.8 Q134.06,711.2 135.66,711.2 L145.97,711.2 Q147.56,711.2 148.34,709.8 L150.99,705 Q151.76,703.6 153.36,703.6 L162.59,703.6 Q164.19,703.6 164.97,705 L167.62,709.8 Q168.39,711.2 169.99,711.2 L180.29,711.2 Q181.89,711.2 182.67,709.8 L185.32,705 Q186.09,703.6 187.69,703.6 L196.92,703.6 Q198.52,703.6 199.3,705 L201.95,709.8 Q202.72,711.2 204.32,711.2 L214.62,711.2 Q216.22,711.2 217,709.8 L219.65,705 Q220.42,703.6 222.02,703.6 L231.25,703.6 Q232.85,703.6 233.63,705 L236.28,709.8 Q237.06,711.2 238.66,711.2 L248.96,711.2 Q250.56,711.2 251.33,709.8 L253.98,705 Q254.75,703.6 256.36,703.6 L265.58,703.6 Q267.19,703.6 267.96,705 L270.61,709.8 Q271.38,711.2 272.99,711.2 L283.28,711.2 Q284.88,711.2 285.66,709.8 L288.31,705 Q289.08,703.6 290.69,703.6 L299.91,703.6 Q301.51,703.6 302.29,705 L304.94,709.8 Q305.71,711.2 307.31,711.2 L317.61,711.2 Q319.21,711.2 319.99,709.8 L322.64,705 Q323.41,703.6 325.01,703.6 L334.24,703.6 Q335.84,703.6 336.62,705 L339.27,709.8 Q340.04,711.2 341.64,711.2 L351.94,711.2 Q353.54,711.2 354.32,709.8 L356.97,705 Q357.74,703.6 359.34,703.6 L368.57,703.6 Q370.17,703.6 370.95,705 L373.6,709.8 Q374.38,711.2 375.98,711.2 L386.27,711.2 Q387.88,711.2 388.65,709.8 L391.3,705 Q392.07,703.6 393.68,703.6 L402.9,703.6 Q404.5,703.6 405.28,705 L407.93,709.8 Q408.7,711.2 410.31,711.2 L420.6,711.2 Q422.2,711.2 422.98,709.8 L425.63,705 Q426.4,703.6 428,703.6 L437.23,703.6 Q438.83,703.6 439.61,705 L442.26,709.8 Q443.03,711.2 444.63,711.2 L452.3,711.2 M109,700.83 L109.66,703.71 L110.37,706.34 L111.09,708.44 L111.8,709.96 L112.52,710.89 L113.24,711.2 M109,675.72 L109.57,678.69 L110.28,682.37 L111,685.91 L111.71,689.28 L112.43,692.39 L113.14,695.21 L113.86,697.68 L114.57,699.76 L115.29,701.42 L116,702.62 L116.72,703.35 L117.44,703.6 M112.7,646.3 L113.42,646.55 L114.13,647.28 L114.85,648.48 L115.56,650.14 L116.28,652.22 L116.99,654.69 L117.71,657.51 L118.42,660.62 L119.14,663.99 L119.85,667.53 L120.57,671.21 L121.28,674.95 L122,678.69 L122.71,682.37 L123.43,685.91 L124.14,689.28 L124.86,692.39 L125.57,695.21 L126.29,697.68 L127,699.76 L127.72,701.42 L128.43,702.62 L129.15,703.35 L129.87,703.6 M116.9,638.7 L117.62,639.01 L118.33,639.94 L119.05,641.46 L119.76,643.56 L120.48,646.19 L121.19,649.32 L121.91,652.88 L122.62,656.83 L123.34,661.08 L124.05,665.57 L124.77,670.22 L125.48,674.95 L126.2,679.68 L126.91,684.33 L127.63,688.82 L128.34,693.08 L129.06,697.02 L129.77,700.58 L130.49,703.71 L131.2,706.34 L131.92,708.44 L132.63,709.96 L133.35,710.89 L134.06,711.2 M130.4,638.7 L131.12,639.01 L131.83,639.94 L132.55,641.46 L133.26,643.56 L133.98,646.19 L134.69,649.32 L135.41,652.88 L136.12,656.83 L136.84,661.08 L137.55,665.57 L138.27,670.22 L138.98,674.95 L139.7,679.68 L140.41,684.33 L141.13,688.82 L141.84,693.08 L142.56,697.02 L143.27,700.58 L143.99,703.71 L144.7,706.34 L145.42,708.44 L146.13,709.96 L146.85,710.89 L147.56,711.2 M134.6,646.3 L135.32,646.55 L136.03,647.28 L136.75,648.48 L137.46,650.14 L138.18,652.22 L138.89,654.69 L139.61,657.51 L140.32,660.62 L141.04,663.99 L141.75,667.53 L142.47,671.21 L143.18,674.95 L143.9,678.69 L144.61,682.37 L145.33,685.91 L146.04,689.28 L146.76,692.39 L147.47,695.21 L148.19,697.68 L148.9,699.76 L149.62,701.42 L150.33,702.62 L151.05,703.35 L151.76,703.6 M147.03,646.3 L147.75,646.55 L148.46,647.28 L149.18,648.48 L149.89,650.14 L150.61,652.22 L151.32,654.69 L152.04,657.51 L152.75,660.62 L153.47,663.99 L154.18,667.53 L154.9,671.21 L155.61,674.95 L156.33,678.69 L157.04,682.37 L157.76,685.91 L158.47,689.28 L159.19,692.39 L159.9,695.21 L160.62,697.68 L161.33,699.76 L162.05,701.42 L162.76,702.62 L163.48,703.35 L164.2,703.6 M151.23,638.7 L151.95,639.01 L152.66,639.94 L153.38,641.46 L154.09,643.56 L154.81,646.19 L155.52,649.32 L156.24,652.88 L156.95,656.83 L157.67,661.08 L158.38,665.57 L159.1,670.22 L159.81,674.95 L160.53,679.68 L161.24,684.33 L161.96,688.82 L162.67,693.08 L163.39,697.02 L164.1,700.58 L164.82,703.71 L165.53,706.34 L166.25,708.44 L166.96,709.96 L167.68,710.89 L168.4,711.2 M164.73,638.7 L165.45,639.01 L166.16,639.94 L166.88,641.46 L167.59,643.56 L168.31,646.19 L169.02,649.32 L169.74,652.88 L170.45,656.83 L171.17,661.08 L171.88,665.57 L172.6,670.22 L173.31,674.95 L174.03,679.68 L174.74,684.33 L175.46,688.82 L176.17,693.08 L176.89,697.02 L177.6,700.58 L178.32,703.71 L179.03,706.34 L179.75,708.44 L180.46,709.96 L181.18,710.89 L181.9,711.2 M168.93,646.3 L169.65,646.55 L170.36,647.28 L171.08,648.48 L171.79,650.14 L172.51,652.22 L173.22,654.69 L173.94,657.51 L174.65,660.62 L175.37,663.99 L176.08,667.53 L176.8,671.21 L177.51,674.95 L178.23,678.69 L178.94,682.37 L179.66,685.91 L180.37,689.28 L181.09,692.39 L181.8,695.21 L182.52,697.68 L183.23,699.76 L183.95,701.42 L184.66,702.62 L185.38,703.35 L186.09,703.6 M181.36,646.3 L182.08,646.55 L182.79,647.28 L183.51,648.48 L184.22,650.14 L184.94,652.22 L185.65,654.69 L186.37,657.51 L187.08,660.62 L187.8,663.99 L188.51,667.53 L189.23,671.21 L189.94,674.95 L190.66,678.69 L191.37,682.37 L192.09,685.91 L192.8,689.28 L193.52,692.39 L194.23,695.21 L194.95,697.68 L195.66,699.76 L196.38,701.42 L197.09,702.62 L197.81,703.35 L198.53,703.6 M185.56,638.7 L186.28,639.01 L186.99,639.94 L187.71,641.46 L188.42,643.56 L189.14,646.19 L189.85,649.32 L190.57,652.88 L191.28,656.83 L192,661.08 L192.71,665.57 L193.43,670.22 L194.14,674.95 L194.86,679.68 L195.57,684.33 L196.29,688.82 L197,693.08 L197.72,697.02 L198.43,700.58 L199.15,703.71 L199.86,706.34 L200.58,708.44 L201.29,709.96 L202.01,710.89 L202.72,711.2 M199.06,638.7 L199.78,639.01 L200.49,639.94 L201.21,641.46 L201.92,643.56 L202.64,646.19 L203.35,649.32 L204.07,652.88 L204.78,656.83 L205.5,661.08 L206.21,665.57 L206.93,670.22 L207.64,674.95 L208.36,679.68 L209.07,684.33 L209.79,688.82 L210.5,693.08 L211.22,697.02 L211.93,700.58 L212.65,703.71 L213.36,706.34 L214.08,708.44 L214.79,709.96 L215.51,710.89 L216.22,711.2 M203.26,646.3 L203.98,646.55 L204.69,647.28 L205.41,648.48 L206.12,650.14 L206.84,652.22 L207.55,654.69 L208.27,657.51 L208.98,660.62 L209.7,663.99 L210.41,667.53 L211.13,671.21 L211.84,674.95 L212.56,678.69 L213.27,682.37 L213.99,685.91 L214.7,689.28 L215.42,692.39 L216.13,695.21 L216.85,697.68 L217.56,699.76 L218.28,701.42 L218.99,702.62 L219.71,703.35 L220.42,703.6 M215.69,646.3 L216.41,646.55 L217.12,647.28 L217.84,648.48 L218.55,650.14 L219.27,652.22 L219.98,654.69 L220.7,657.51 L221.41,660.62 L222.13,663.99 L222.84,667.53 L223.56,671.21 L224.27,674.95 L224.99,678.69 L225.7,682.37 L226.42,685.91 L227.13,689.28 L227.85,692.39 L228.56,695.21 L229.28,697.68 L229.99,699.76 L230.71,701.42 L231.42,702.62 L232.14,703.35 L232.85,703.6 M219.89,638.7 L220.61,639.01 L221.32,639.94 L222.04,641.46 L222.75,643.56 L223.47,646.19 L224.18,649.32 L224.9,652.88 L225.61,656.83 L226.33,661.08 L227.04,665.57 L227.76,670.22 L228.47,674.95 L229.19,679.68 L229.9,684.33 L230.62,688.82 L231.33,693.08 L232.05,697.02 L232.76,700.58 L233.48,703.71 L234.19,706.34 L234.91,708.44 L235.62,709.96 L236.34,710.89 L237.05,711.2 M233.39,638.7 L234.11,639.01 L234.82,639.94 L235.54,641.46 L236.25,643.56 L236.97,646.19 L237.68,649.32 L238.4,652.88 L239.11,656.83 L239.83,661.08 L240.54,665.57 L241.26,670.22 L241.97,674.95 L242.69,679.68 L243.4,684.33 L244.12,688.82 L244.83,693.08 L245.55,697.02 L246.26,700.58 L246.98,703.71 L247.69,706.34 L248.41,708.44 L249.12,709.96 L249.84,710.89 L250.55,711.2 M237.59,646.3 L238.31,646.55 L239.02,647.28 L239.74,648.48 L240.45,650.14 L241.17,652.22 L241.88,654.69 L242.6,657.51 L243.31,660.62 L244.03,663.99 L244.74,667.53 L245.46,671.21 L246.17,674.95 L246.89,678.69 L247.6,682.37 L248.32,685.91 L249.03,689.28 L249.75,692.39 L250.46,695.21 L251.18,697.68 L251.89,699.76 L252.61,701.42 L253.32,702.62 L254.04,703.35 L254.75,703.6 M250.02,646.3 L250.74,646.55 L251.45,647.28 L252.17,648.48 L252.88,650.14 L253.6,652.22 L254.31,654.69 L255.03,657.51 L255.74,660.62 L256.46,663.99 L257.17,667.53 L257.89,671.21 L258.6,674.95 L259.32,678.69 L260.03,682.37 L260.75,685.91 L261.46,689.28 L262.18,692.39 L262.89,695.21 L263.61,697.68 L264.32,699.76 L265.04,701.42 L265.75,702.62 L266.47,703.35 L267.19,703.6 M254.22,638.7 L254.94,639.01 L255.65,639.94 L256.37,641.46 L257.08,643.56 L257.8,646.19 L258.51,649.32 L259.23,652.88 L259.94,656.83 L260.66,661.08 L261.37,665.57 L262.09,670.22 L262.8,674.95 L263.52,679.68 L264.23,684.33 L264.95,688.82 L265.66,693.08 L266.38,697.02 L267.09,700.58 L267.81,703.71 L268.52,706.34 L269.24,708.44 L269.95,709.96 L270.67,710.89 L271.38,711.2 M267.72,638.7 L268.44,639.01 L269.15,639.94 L269.87,641.46 L270.58,643.56 L271.3,646.19 L272.01,649.32 L272.73,652.88 L273.44,656.83 L274.16,661.08 L274.87,665.57 L275.59,670.22 L276.3,674.95 L277.02,679.68 L277.73,684.33 L278.45,688.82 L279.16,693.08 L279.88,697.02 L280.59,700.58 L281.31,703.71 L282.02,706.34 L282.74,708.44 L283.45,709.96 L284.17,710.89 L284.89,711.2 M271.92,646.3 L272.64,646.55 L273.35,647.28 L274.07,648.48 L274.78,650.14 L275.5,652.22 L276.21,654.69 L276.93,657.51 L277.64,660.62 L278.36,663.99 L279.07,667.53 L279.79,671.21 L280.5,674.95 L281.22,678.69 L281.93,682.37 L282.65,685.91 L283.36,689.28 L284.08,692.39 L284.79,695.21 L285.51,697.68 L286.22,699.76 L286.94,701.42 L287.65,702.62 L288.37,703.35 L289.09,703.6 M284.35,646.3 L285.07,646.55 L285.78,647.28 L286.5,648.48 L287.21,650.14 L287.93,652.22 L288.64,654.69 L289.36,657.51 L290.07,660.62 L290.79,663.99 L291.5,667.53 L292.22,671.21 L292.93,674.95 L293.65,678.69 L294.36,682.37 L295.08,685.91 L295.79,689.28 L296.51,692.39 L297.22,695.21 L297.94,697.68 L298.65,699.76 L299.37,701.42 L300.08,702.62 L300.8,703.35 L301.51,703.6 M288.55,638.7 L289.27,639.01 L289.98,639.94 L290.7,641.46 L291.41,643.56 L292.13,646.19 L292.84,649.32 L293.56,652.88 L294.27,656.83 L294.99,661.08 L295.7,665.57 L296.42,670.22 L297.13,674.95 L297.85,679.68 L298.56,684.33 L299.28,688.82 L299.99,693.08 L300.71,697.02 L301.42,700.58 L302.14,703.71 L302.85,706.34 L303.57,708.44 L304.28,709.96 L305,710.89 L305.71,711.2 M302.05,638.7 L302.77,639.01 L303.48,639.94 L304.2,641.46 L304.91,643.56 L305.63,646.19 L306.34,649.32 L307.06,652.88 L307.77,656.83 L308.49,661.08 L309.2,665.57 L309.92,670.22 L310.63,674.95 L311.35,679.68 L312.06,684.33 L312.78,688.82 L313.49,693.08 L314.21,697.02 L314.92,700.58 L315.64,703.71 L316.35,706.34 L317.07,708.44 L317.78,709.96 L318.5,710.89 L319.21,711.2 M306.25,646.3 L306.97,646.55 L307.68,647.28 L308.4,648.48 L309.11,650.14 L309.83,652.22 L310.54,654.69 L311.26,657.51 L311.97,660.62 L312.69,663.99 L313.4,667.53 L314.12,671.21 L314.83,674.95 L315.55,678.69 L316.26,682.37 L316.98,685.91 L317.69,689.28 L318.41,692.39 L319.12,695.21 L319.84,697.68 L320.55,699.76 L321.27,701.42 L321.98,702.62 L322.7,703.35 L323.41,703.6 M318.68,646.3 L319.4,646.55 L320.11,647.28 L320.83,648.48 L321.54,650.14 L322.26,652.22 L322.97,654.69 L323.69,657.51 L324.4,660.62 L325.12,663.99 L325.83,667.53 L326.55,671.21 L327.26,674.95 L327.98,678.69 L328.69,682.37 L329.41,685.91 L330.12,689.28 L330.84,692.39 L331.55,695.21 L332.27,697.68 L332.98,699.76 L333.7,701.42 L334.41,702.62 L335.13,703.35 L335.85,703.6 M322.88,638.7 L323.6,639.01 L324.31,639.94 L325.03,641.46 L325.74,643.56 L326.46,646.19 L327.17,649.32 L327.89,652.88 L328.6,656.83 L329.32,661.08 L330.03,665.57 L330.75,670.22 L331.46,674.95 L332.18,679.68 L332.89,684.33 L333.61,688.82 L334.32,693.08 L335.04,697.02 L335.75,700.58 L336.47,703.71 L337.18,706.34 L337.9,708.44 L338.61,709.96 L339.33,710.89 L340.05,711.2 M336.38,638.7 L337.1,639.01 L337.81,639.94 L338.53,641.46 L339.24,643.56 L339.96,646.19 L340.67,649.32 L341.39,652.88 L342.1,656.83 L342.82,661.08 L343.53,665.57 L344.25,670.22 L344.96,674.95 L345.68,679.68 L346.39,684.33 L347.11,688.82 L347.82,693.08 L348.54,697.02 L349.25,700.58 L349.97,703.71 L350.68,706.34 L351.4,708.44 L352.11,709.96 L352.83,710.89 L353.55,711.2 M340.58,646.3 L341.3,646.55 L342.01,647.28 L342.73,648.48 L343.44,650.14 L344.16,652.22 L344.87,654.69 L345.59,657.51 L346.3,660.62 L347.02,663.99 L347.73,667.53 L348.45,671.21 L349.16,674.95 L349.88,678.69 L350.59,682.37 L351.31,685.91 L352.02,689.28 L352.74,692.39 L353.45,695.21 L354.17,697.68 L354.88,699.76 L355.6,701.42 L356.31,702.62 L357.03,703.35 L357.75,703.6 M353.01,646.3 L353.73,646.55 L354.44,647.28 L355.16,648.48 L355.87,650.14 L356.59,652.22 L357.3,654.69 L358.02,657.51 L358.73,660.62 L359.45,663.99 L360.16,667.53 L360.88,671.21 L361.59,674.95 L362.31,678.69 L363.02,682.37 L363.74,685.91 L364.45,689.28 L365.17,692.39 L365.88,695.21 L366.6,697.68 L367.31,699.76 L368.03,701.42 L368.74,702.62 L369.46,703.35 L370.18,703.6 M357.21,638.7 L357.93,639.01 L358.64,639.94 L359.36,641.46 L360.07,643.56 L360.79,646.19 L361.5,649.32 L362.22,652.88 L362.93,656.83 L363.65,661.08 L364.36,665.57 L365.08,670.22 L365.79,674.95 L366.51,679.68 L367.22,684.33 L367.94,688.82 L368.65,693.08 L369.37,697.02 L370.08,700.58 L370.8,703.71 L371.51,706.34 L372.23,708.44 L372.94,709.96 L373.66,710.89 L374.38,711.2 M370.71,638.7 L371.43,639.01 L372.14,639.94 L372.86,641.46 L373.57,643.56 L374.29,646.19 L375,649.32 L375.72,652.88 L376.43,656.83 L377.15,661.08 L377.86,665.57 L378.58,670.22 L379.29,674.95 L380.01,679.68 L380.72,684.33 L381.44,688.82 L382.15,693.08 L382.87,697.02 L383.58,700.58 L384.3,703.71 L385.01,706.34 L385.73,708.44 L386.44,709.96 L387.16,710.89 L387.88,711.2 M374.91,646.3 L375.63,646.55 L376.34,647.28 L377.06,648.48 L377.77,650.14 L378.49,652.22 L379.2,654.69 L379.92,657.51 L380.63,660.62 L381.35,663.99 L382.06,667.53 L382.78,671.21 L383.49,674.95 L384.21,678.69 L384.92,682.37 L385.64,685.91 L386.35,689.28 L387.07,692.39 L387.78,695.21 L388.5,697.68 L389.21,699.76 L389.93,701.42 L390.64,702.62 L391.36,703.35 L392.08,703.6 M387.34,646.3 L388.06,646.55 L388.77,647.28 L389.49,648.48 L390.2,650.14 L390.92,652.22 L391.63,654.69 L392.35,657.51 L393.06,660.62 L393.78,663.99 L394.49,667.53 L395.21,671.21 L395.92,674.95 L396.64,678.69 L397.35,682.37 L398.07,685.91 L398.78,689.28 L399.5,692.39 L400.21,695.21 L400.93,697.68 L401.64,699.76 L402.36,701.42 L403.07,702.62 L403.79,703.35 L404.5,703.6 M391.54,638.7 L392.26,639.01 L392.97,639.94 L393.69,641.46 L394.4,643.56 L395.12,646.19 L395.83,649.32 L396.55,652.88 L397.26,656.83 L397.98,661.08 L398.69,665.57 L399.41,670.22 L400.12,674.95 L400.84,679.68 L401.55,684.33 L402.27,688.82 L402.98,693.08 L403.7,697.02 L404.41,700.58 L405.13,703.71 L405.84,706.34 L406.56,708.44 L407.27,709.96 L407.99,710.89 L408.7,711.2 M405.04,638.7 L405.76,639.01 L406.47,639.94 L407.19,641.46 L407.9,643.56 L408.62,646.19 L409.33,649.32 L410.05,652.88 L410.76,656.83 L411.48,661.08 L412.19,665.57 L412.91,670.22 L413.62,674.95 L414.34,679.68 L415.05,684.33 L415.77,688.82 L416.48,693.08 L417.2,697.02 L417.91,700.58 L418.63,703.71 L419.34,706.34 L420.06,708.44 L420.77,709.96 L421.49,710.89 L422.2,711.2 M409.24,646.3 L409.96,646.55 L410.67,647.28 L411.39,648.48 L412.1,650.14 L412.82,652.22 L413.53,654.69 L414.25,657.51 L414.96,660.62 L415.68,663.99 L416.39,667.53 L417.11,671.21 L417.82,674.95 L418.54,678.69 L419.25,682.37 L419.97,685.91 L420.68,689.28 L421.4,692.39 L422.11,695.21 L422.83,697.68 L423.54,699.76 L424.26,701.42 L424.97,702.62 L425.69,703.35 L426.4,703.6 M421.67,646.3 L422.39,646.55 L423.1,647.28 L423.82,648.48 L424.53,650.14 L425.25,652.22 L425.96,654.69 L426.68,657.51 L427.39,660.62 L428.11,663.99 L428.82,667.53 L429.54,671.21 L430.25,674.95 L430.97,678.69 L431.68,682.37 L432.4,685.91 L433.11,689.28 L433.83,692.39 L434.54,695.21 L435.26,697.68 L435.97,699.76 L436.69,701.42 L437.4,702.62 L438.12,703.35 L438.84,703.6 M425.87,638.7 L426.59,639.01 L427.3,639.94 L428.02,641.46 L428.73,643.56 L429.45,646.19 L430.16,649.32 L430.88,652.88 L431.59,656.83 L432.31,661.08 L433.02,665.57 L433.74,670.22 L434.45,674.95 L435.17,679.68 L435.88,684.33 L436.6,688.82 L437.31,693.08 L438.03,697.02 L438.74,700.58 L439.46,703.71 L440.17,706.34 L440.89,708.44 L441.6,709.96 L442.32,710.89 L443.04,711.2 M439.37,638.7 L440.09,639.01 L440.8,639.94 L441.52,641.46 L442.23,643.56 L442.95,646.19 L443.66,649.32 L444.38,652.88 L445.09,656.83 L445.81,661.08 L446.52,665.57 L447.24,670.22 L447.95,674.95 L448.67,679.68 L449.38,684.33 L450.1,688.82 L450.81,693.08 L451.53,697.02 L452.24,700.58 L452.3,700.83 M443.57,646.3 L444.29,646.55 L445,647.28 L445.72,648.48 L446.43,650.14 L447.15,652.22 L447.86,654.69 L448.58,657.51 L449.29,660.62 L450.01,663.99 L450.72,667.53 L451.44,671.21 L452.15,674.95 L452.3,675.72 M109,646.3 L109,711.2 M452.3,646.3 L452.3,711.2 M452.3,651.9 L540.6,651.9 Q543.1,651.9 543.1,654.4 L543.1,695.6 Q543.1,698.1 540.6,698.1 L452.3,698.1 M452.3,658.8 L541.3,658.8 M452.3,691.2 L541.3,691.2 M540.8,652.4 L540.8,658.8 M540.8,691.2 L540.8,697.6" fill="none" stroke="#000" stroke-width="2.0" stroke-linejoin="round" stroke-linecap="round"/>
<g style="filter:grayscale(1)">
<text x="604.00" y="128.50" textLength="175.00" lengthAdjust="spacingAndGlyphs">Threaded End</text>
<text x="615.00" y="310.00" textLength="153.00" lengthAdjust="spacingAndGlyphs">Smooth End</text>
<text x="658.00" y="491.70" textLength="67.00" lengthAdjust="spacingAndGlyphs">None</text>
<text x="625.00" y="673.30" textLength="133.00" lengthAdjust="spacingAndGlyphs">Customize</text>
<text x="858.00" y="205.80" textLength="182.00" lengthAdjust="spacingAndGlyphs">The screw end</text>
<text x="855.00" y="242.03" textLength="187.00" lengthAdjust="spacingAndGlyphs">machining was</text>
<text x="823.00" y="278.26" textLength="252.00" lengthAdjust="spacingAndGlyphs">machined depended</text>
<text x="828.50" y="314.49" textLength="241.50" lengthAdjust="spacingAndGlyphs">on screw diameter.</text>
<text x="852.00" y="350.72" textLength="192.00" lengthAdjust="spacingAndGlyphs">Please  contact</text>
<text x="854.00" y="386.95" textLength="189.00" lengthAdjust="spacingAndGlyphs">DINGS’ or your</text>
<text x="869.00" y="423.18" textLength="158.00" lengthAdjust="spacingAndGlyphs">local DINGS’</text>
<text x="858.00" y="459.41" textLength="181.00" lengthAdjust="spacingAndGlyphs">representative</text>
<text x="878.00" y="495.64" textLength="142.00" lengthAdjust="spacingAndGlyphs">for detailed</text>
<text x="842.00" y="531.87" textLength="214.00" lengthAdjust="spacingAndGlyphs">screw machining</text>
<text x="858.00" y="568.10" textLength="182.00" lengthAdjust="spacingAndGlyphs">specifications.</text>
</g>
</svg>
</body></html>
